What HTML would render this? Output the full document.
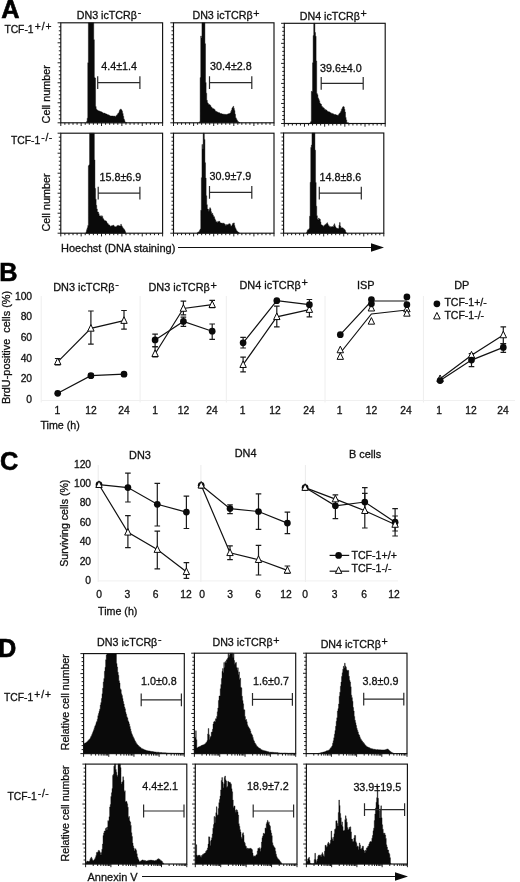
<!DOCTYPE html>
<html lang="en"><head><meta charset="utf-8"><title>Figure</title>
<style>
html,body{margin:0;padding:0;background:#fff;}
body{width:520px;height:882px;overflow:hidden;font-family:'Liberation Sans', Arial, Helvetica, sans-serif;}
svg{display:block;}
svg text{font-family:'Liberation Sans', Arial, Helvetica, sans-serif;}
</style></head>
<body>
<svg width="520" height="882" viewBox="0 0 520 882">
<rect width="520" height="882" fill="#fff"/>
<text x="1.20" y="17.50" font-size="25.3" font-weight="bold" fill="#000" stroke="#000" stroke-width="0.6">A</text>
<text x="109.00" y="19.00" font-size="10.7" text-anchor="middle" font-weight="normal" fill="#111" stroke="#111" stroke-width="0.3" >DN3 icTCRβ<tspan font-size="10.70" dy="-3.3" dx="0.7">-</tspan></text>
<text x="226.00" y="19.00" font-size="10.7" text-anchor="middle" font-weight="normal" fill="#111" stroke="#111" stroke-width="0.3" >DN3 icTCRβ<tspan font-size="10.70" dy="-2.4" dx="0.7">+</tspan></text>
<text x="333.30" y="19.60" font-size="10.7" text-anchor="middle" font-weight="normal" fill="#111" stroke="#111" stroke-width="0.3" >DN4 icTCRβ<tspan font-size="10.70" dy="-2.4" dx="0.7">+</tspan></text>
<text x="4.40" y="32.70" font-size="10.3" text-anchor="start" font-weight="normal" fill="#111" stroke="#111" stroke-width="0.3" >TCF-1<tspan dy="-3.2" dx="1.2" font-size="10.3" letter-spacing="0.9">+/+</tspan></text>
<text x="11.00" y="143.80" font-size="10.3" text-anchor="start" font-weight="normal" fill="#111" stroke="#111" stroke-width="0.3" >TCF-1<tspan dy="-3.2" dx="1.2" font-size="10.3" letter-spacing="0.6">-/-</tspan></text>
<path d="M86.55,122.80L86.55,121.57L87.15,121.57L87.15,118.19L87.75,118.19L87.75,62.76L88.35,62.76L88.35,22.80L88.95,22.80L88.95,22.80L89.55,22.80L89.55,22.80L90.15,22.80L90.15,22.80L90.75,22.80L90.75,22.80L91.35,22.80L91.35,22.80L91.95,22.80L91.95,22.80L92.55,22.80L92.55,22.80L93.15,22.80L93.15,22.80L93.75,22.80L93.75,39.75L94.35,39.75L94.35,77.60L94.95,77.60L94.95,78.00L95.55,78.00L95.55,106.57L96.15,106.57L96.15,109.12L96.75,109.12L96.75,110.08L97.35,110.08L97.35,110.15L97.95,110.15L97.95,110.77L98.55,110.77L98.55,110.99L99.15,110.99L99.15,110.93L99.75,110.93L99.75,111.60L100.35,111.60L100.35,111.61L100.95,111.61L100.95,111.86L101.55,111.86L101.55,112.01L102.15,112.01L102.15,112.49L102.75,112.49L102.75,112.97L103.35,112.97L103.35,113.26L103.95,113.26L103.95,113.11L104.55,113.11L104.55,113.36L105.15,113.36L105.15,113.66L105.75,113.66L105.75,114.00L106.35,114.00L106.35,114.02L106.95,114.02L106.95,114.52L107.55,114.52L107.55,114.96L108.15,114.96L108.15,114.87L108.75,114.87L108.75,115.20L109.35,115.20L109.35,115.56L109.95,115.56L109.95,115.88L110.55,115.88L110.55,115.97L111.15,115.97L111.15,115.96L111.75,115.96L111.75,116.12L112.35,116.12L112.35,115.96L112.95,115.96L112.95,116.26L113.55,116.26L113.55,116.06L114.15,116.06L114.15,116.05L114.75,116.05L114.75,116.44L115.35,116.44L115.35,116.39L115.95,116.39L115.95,115.66L116.55,115.66L116.55,115.26L117.15,115.26L117.15,114.46L117.75,114.46L117.75,113.59L118.35,113.59L118.35,113.03L118.95,113.03L118.95,111.62L119.55,111.62L119.55,110.00L120.15,110.00L120.15,109.17L120.75,109.17L120.75,109.24L121.35,109.24L121.35,110.01L121.95,110.01L121.95,111.13L122.55,111.13L122.55,113.56L123.15,113.56L123.15,116.33L123.75,116.33L123.75,119.12L124.35,119.12L124.35,120.60L124.95,120.60L124.95,122.13L125.55,122.13L125.55,122.44L126.15,122.44L126.15,122.70L126.75,122.70L126.75,122.80L127.02,122.80L127.02,122.80Z" fill="#0a0a0a" stroke="#0a0a0a" stroke-width="0.4"/>
<rect x="60.80" y="22.80" width="101.80" height="100.00" fill="none" stroke="#111" stroke-width="1.15"/>
<path d="M60.80,122.80h-3.2M60.80,118.80h-2.0M60.80,114.80h-2.0M60.80,110.80h-2.0M60.80,106.80h-2.0M60.80,102.80h-3.2M60.80,98.80h-2.0M60.80,94.80h-2.0M60.80,90.80h-2.0M60.80,86.80h-2.0M60.80,82.80h-3.2M60.80,78.80h-2.0M60.80,74.80h-2.0M60.80,70.80h-2.0M60.80,66.80h-2.0M60.80,62.80h-3.2M60.80,58.80h-2.0M60.80,54.80h-2.0M60.80,50.80h-2.0M60.80,46.80h-2.0M60.80,42.80h-3.2M60.80,38.80h-2.0M60.80,34.80h-2.0M60.80,30.80h-2.0M60.80,26.80h-2.0M60.80,22.80h-3.2M60.80,122.80v3.2M64.87,122.80v2.0M68.94,122.80v2.0M73.02,122.80v2.0M77.09,122.80v2.0M81.16,122.80v3.2M85.23,122.80v2.0M89.30,122.80v2.0M93.38,122.80v2.0M97.45,122.80v2.0M101.52,122.80v3.2M105.59,122.80v2.0M109.66,122.80v2.0M113.74,122.80v2.0M117.81,122.80v2.0M121.88,122.80v3.2M125.95,122.80v2.0M130.02,122.80v2.0M134.10,122.80v2.0M138.17,122.80v2.0M142.24,122.80v3.2M146.31,122.80v2.0M150.38,122.80v2.0M154.46,122.80v2.0M158.53,122.80v2.0M162.60,122.80v3.2" stroke="#111" stroke-width="0.95" fill="none"/>
<path d="M97.70,82.60H139.90M97.70,76.20v12.8M139.90,76.20v12.8" stroke="#2a2a2a" stroke-width="1.2" fill="none"/>
<text x="101.20" y="70.40" font-size="10.75" text-anchor="start" font-weight="normal" fill="#111" stroke="#111" stroke-width="0.3" >4.4±1.4</text>
<path d="M198.93,122.80L198.93,122.60L199.53,122.60L199.53,121.68L200.13,121.68L200.13,77.60L200.73,77.60L200.73,35.97L201.33,35.97L201.33,38.03L201.93,38.03L201.93,22.80L202.53,22.80L202.53,22.80L203.13,22.80L203.13,22.80L203.73,22.80L203.73,22.80L204.33,22.80L204.33,22.80L204.93,22.80L204.93,43.71L205.53,43.71L205.53,82.61L206.13,82.61L206.13,93.14L206.73,93.14L206.73,100.37L207.33,100.37L207.33,102.77L207.93,102.77L207.93,103.61L208.53,103.61L208.53,104.55L209.13,104.55L209.13,104.47L209.73,104.47L209.73,105.07L210.33,105.07L210.33,105.73L210.93,105.73L210.93,106.96L211.53,106.96L211.53,107.54L212.13,107.54L212.13,108.37L212.73,108.37L212.73,108.67L213.33,108.67L213.33,108.74L213.93,108.74L213.93,109.18L214.53,109.18L214.53,109.82L215.13,109.82L215.13,110.90L215.73,110.90L215.73,111.41L216.33,111.41L216.33,111.47L216.93,111.47L216.93,111.92L217.53,111.92L217.53,112.27L218.13,112.27L218.13,112.87L218.73,112.87L218.73,112.57L219.33,112.57L219.33,112.96L219.93,112.96L219.93,113.45L220.53,113.45L220.53,113.58L221.13,113.58L221.13,113.55L221.73,113.55L221.73,113.96L222.33,113.96L222.33,114.06L222.93,114.06L222.93,114.45L223.53,114.45L223.53,113.98L224.13,113.98L224.13,114.44L224.73,114.44L224.73,114.13L225.33,114.13L225.33,114.55L225.93,114.55L225.93,114.85L226.53,114.85L226.53,114.37L227.13,114.37L227.13,114.27L227.73,114.27L227.73,114.04L228.33,114.04L228.33,113.67L228.93,113.67L228.93,113.66L229.53,113.66L229.53,113.31L230.13,113.31L230.13,113.04L230.73,113.04L230.73,111.55L231.33,111.55L231.33,109.91L231.93,109.91L231.93,108.02L232.53,108.02L232.53,107.23L233.13,107.23L233.13,106.34L233.73,106.34L233.73,108.41L234.33,108.41L234.33,110.54L234.93,110.54L234.93,114.19L235.53,114.19L235.53,117.70L236.13,117.70L236.13,118.74L236.73,118.74L236.73,120.03L237.33,120.03L237.33,121.13L237.93,121.13L237.93,121.66L238.53,121.66L238.53,122.16L239.13,122.16L239.13,122.54L239.73,122.54L239.73,122.80L240.00,122.80L240.00,122.80Z" fill="#0a0a0a" stroke="#0a0a0a" stroke-width="0.4"/>
<rect x="173.50" y="22.80" width="100.50" height="100.00" fill="none" stroke="#111" stroke-width="1.15"/>
<path d="M173.50,122.80h-3.2M173.50,118.80h-2.0M173.50,114.80h-2.0M173.50,110.80h-2.0M173.50,106.80h-2.0M173.50,102.80h-3.2M173.50,98.80h-2.0M173.50,94.80h-2.0M173.50,90.80h-2.0M173.50,86.80h-2.0M173.50,82.80h-3.2M173.50,78.80h-2.0M173.50,74.80h-2.0M173.50,70.80h-2.0M173.50,66.80h-2.0M173.50,62.80h-3.2M173.50,58.80h-2.0M173.50,54.80h-2.0M173.50,50.80h-2.0M173.50,46.80h-2.0M173.50,42.80h-3.2M173.50,38.80h-2.0M173.50,34.80h-2.0M173.50,30.80h-2.0M173.50,26.80h-2.0M173.50,22.80h-3.2M173.50,122.80v3.2M177.52,122.80v2.0M181.54,122.80v2.0M185.56,122.80v2.0M189.58,122.80v2.0M193.60,122.80v3.2M197.62,122.80v2.0M201.64,122.80v2.0M205.66,122.80v2.0M209.68,122.80v2.0M213.70,122.80v3.2M217.72,122.80v2.0M221.74,122.80v2.0M225.76,122.80v2.0M229.78,122.80v2.0M233.80,122.80v3.2M237.82,122.80v2.0M241.84,122.80v2.0M245.86,122.80v2.0M249.88,122.80v2.0M253.90,122.80v3.2M257.92,122.80v2.0M261.94,122.80v2.0M265.96,122.80v2.0M269.98,122.80v2.0M274.00,122.80v3.2" stroke="#111" stroke-width="0.95" fill="none"/>
<path d="M209.50,82.60H251.80M209.50,76.20v12.8M251.80,76.20v12.8" stroke="#2a2a2a" stroke-width="1.2" fill="none"/>
<text x="210.00" y="69.70" font-size="10.75" text-anchor="start" font-weight="normal" fill="#111" stroke="#111" stroke-width="0.3" >30.4±2.8</text>
<path d="M310.12,123.50L310.12,122.51L310.72,122.51L310.72,121.61L311.32,121.61L311.32,91.36L311.92,91.36L311.92,91.51L312.52,91.51L312.52,62.84L313.12,62.84L313.12,35.55L313.72,35.55L313.72,23.30L314.32,23.30L314.32,23.30L314.92,23.30L314.92,32.54L315.52,32.54L315.52,36.32L316.12,36.32L316.12,60.99L316.72,60.99L316.72,93.59L317.32,93.59L317.32,94.67L317.92,94.67L317.92,97.89L318.52,97.89L318.52,99.24L319.12,99.24L319.12,100.79L319.72,100.79L319.72,103.05L320.32,103.05L320.32,103.97L320.92,103.97L320.92,104.28L321.52,104.28L321.52,106.32L322.12,106.32L322.12,106.72L322.72,106.72L322.72,107.64L323.32,107.64L323.32,107.80L323.92,107.80L323.92,108.47L324.52,108.47L324.52,109.56L325.12,109.56L325.12,109.46L325.72,109.46L325.72,110.21L326.32,110.21L326.32,110.04L326.92,110.04L326.92,111.12L327.52,111.12L327.52,111.45L328.12,111.45L328.12,111.81L328.72,111.81L328.72,111.86L329.32,111.86L329.32,112.03L329.92,112.03L329.92,112.63L330.52,112.63L330.52,112.70L331.12,112.70L331.12,113.44L331.72,113.44L331.72,113.29L332.32,113.29L332.32,113.85L332.92,113.85L332.92,113.85L333.52,113.85L333.52,114.33L334.12,114.33L334.12,114.48L334.72,114.48L334.72,114.53L335.32,114.53L335.32,114.50L335.92,114.50L335.92,114.97L336.52,114.97L336.52,114.96L337.12,114.96L337.12,115.34L337.72,115.34L337.72,115.51L338.32,115.51L338.32,114.73L338.92,114.73L338.92,113.73L339.52,113.73L339.52,113.15L340.12,113.15L340.12,112.54L340.72,112.54L340.72,111.29L341.32,111.29L341.32,109.39L341.92,109.39L341.92,108.49L342.52,108.49L342.52,107.12L343.12,107.12L343.12,106.45L343.72,106.45L343.72,106.98L344.32,106.98L344.32,109.23L344.92,109.23L344.92,112.12L345.52,112.12L345.52,117.48L346.12,117.48L346.12,119.89L346.72,119.89L346.72,122.40L347.32,122.40L347.32,122.68L347.92,122.68L347.92,122.75L348.52,122.75L348.52,123.06L348.81,123.06L348.81,123.50Z" fill="#0a0a0a" stroke="#0a0a0a" stroke-width="0.4"/>
<rect x="284.30" y="23.30" width="100.90" height="100.20" fill="none" stroke="#111" stroke-width="1.15"/>
<path d="M284.30,123.50h-3.2M284.30,119.49h-2.0M284.30,115.48h-2.0M284.30,111.48h-2.0M284.30,107.47h-2.0M284.30,103.46h-3.2M284.30,99.45h-2.0M284.30,95.44h-2.0M284.30,91.44h-2.0M284.30,87.43h-2.0M284.30,83.42h-3.2M284.30,79.41h-2.0M284.30,75.40h-2.0M284.30,71.40h-2.0M284.30,67.39h-2.0M284.30,63.38h-3.2M284.30,59.37h-2.0M284.30,55.36h-2.0M284.30,51.36h-2.0M284.30,47.35h-2.0M284.30,43.34h-3.2M284.30,39.33h-2.0M284.30,35.32h-2.0M284.30,31.32h-2.0M284.30,27.31h-2.0M284.30,23.30h-3.2M284.30,123.50v3.2M288.34,123.50v2.0M292.37,123.50v2.0M296.41,123.50v2.0M300.44,123.50v2.0M304.48,123.50v3.2M308.52,123.50v2.0M312.55,123.50v2.0M316.59,123.50v2.0M320.62,123.50v2.0M324.66,123.50v3.2M328.70,123.50v2.0M332.73,123.50v2.0M336.77,123.50v2.0M340.80,123.50v2.0M344.84,123.50v3.2M348.88,123.50v2.0M352.91,123.50v2.0M356.95,123.50v2.0M360.98,123.50v2.0M365.02,123.50v3.2M369.06,123.50v2.0M373.09,123.50v2.0M377.13,123.50v2.0M381.16,123.50v2.0M385.20,123.50v3.2" stroke="#111" stroke-width="0.95" fill="none"/>
<path d="M321.20,83.30H363.20M321.20,76.90v12.8M363.20,76.90v12.8" stroke="#2a2a2a" stroke-width="1.2" fill="none"/>
<text x="320.00" y="71.50" font-size="10.75" text-anchor="start" font-weight="normal" fill="#111" stroke="#111" stroke-width="0.3" >39.6±4.0</text>
<path d="M85.95,233.20L85.95,231.86L86.55,231.86L86.55,229.64L87.15,229.64L87.15,227.86L87.75,227.86L87.75,225.57L88.35,225.57L88.35,165.75L88.95,165.75L88.95,164.82L89.55,164.82L89.55,133.20L90.15,133.20L90.15,133.20L90.75,133.20L90.75,133.20L91.35,133.20L91.35,133.20L91.95,133.20L91.95,133.20L92.55,133.20L92.55,133.20L93.15,133.20L93.15,133.20L93.75,133.20L93.75,133.20L94.35,133.20L94.35,159.89L94.95,159.89L94.95,188.42L95.55,188.42L95.55,199.13L96.15,199.13L96.15,205.36L96.75,205.36L96.75,209.05L97.35,209.05L97.35,212.03L97.95,212.03L97.95,212.08L98.55,212.08L98.55,213.65L99.15,213.65L99.15,216.03L99.75,216.03L99.75,215.83L100.35,215.83L100.35,216.13L100.95,216.13L100.95,216.83L101.55,216.83L101.55,215.70L102.15,215.70L102.15,216.39L102.75,216.39L102.75,218.54L103.35,218.54L103.35,219.18L103.95,219.18L103.95,220.34L104.55,220.34L104.55,220.64L105.15,220.64L105.15,220.79L105.75,220.79L105.75,221.05L106.35,221.05L106.35,221.86L106.95,221.86L106.95,223.15L107.55,223.15L107.55,223.49L108.15,223.49L108.15,224.41L108.75,224.41L108.75,224.93L109.35,224.93L109.35,225.29L109.95,225.29L109.95,226.26L110.55,226.26L110.55,226.30L111.15,226.30L111.15,225.84L111.75,225.84L111.75,225.93L112.35,225.93L112.35,225.53L112.95,225.53L112.95,225.02L113.55,225.02L113.55,225.67L114.15,225.67L114.15,226.42L114.75,226.42L114.75,226.44L115.35,226.44L115.35,227.11L115.95,227.11L115.95,226.99L116.55,226.99L116.55,225.98L117.15,225.98L117.15,225.66L117.75,225.66L117.75,225.27L118.35,225.27L118.35,225.77L118.95,225.77L118.95,225.83L119.55,225.83L119.55,225.93L120.15,225.93L120.15,225.95L120.75,225.95L120.75,224.23L121.35,224.23L121.35,225.73L121.95,225.73L121.95,226.64L122.55,226.64L122.55,227.74L123.15,227.74L123.15,228.58L123.75,228.58L123.75,229.16L124.35,229.16L124.35,229.92L124.95,229.92L124.95,231.39L125.55,231.39L125.55,232.84L125.83,232.84L125.83,233.20Z" fill="#0a0a0a" stroke="#0a0a0a" stroke-width="0.4"/>
<rect x="60.80" y="133.20" width="101.80" height="100.00" fill="none" stroke="#111" stroke-width="1.15"/>
<path d="M60.80,233.20h-3.2M60.80,229.20h-2.0M60.80,225.20h-2.0M60.80,221.20h-2.0M60.80,217.20h-2.0M60.80,213.20h-3.2M60.80,209.20h-2.0M60.80,205.20h-2.0M60.80,201.20h-2.0M60.80,197.20h-2.0M60.80,193.20h-3.2M60.80,189.20h-2.0M60.80,185.20h-2.0M60.80,181.20h-2.0M60.80,177.20h-2.0M60.80,173.20h-3.2M60.80,169.20h-2.0M60.80,165.20h-2.0M60.80,161.20h-2.0M60.80,157.20h-2.0M60.80,153.20h-3.2M60.80,149.20h-2.0M60.80,145.20h-2.0M60.80,141.20h-2.0M60.80,137.20h-2.0M60.80,133.20h-3.2M60.80,233.20v3.2M64.87,233.20v2.0M68.94,233.20v2.0M73.02,233.20v2.0M77.09,233.20v2.0M81.16,233.20v3.2M85.23,233.20v2.0M89.30,233.20v2.0M93.38,233.20v2.0M97.45,233.20v2.0M101.52,233.20v3.2M105.59,233.20v2.0M109.66,233.20v2.0M113.74,233.20v2.0M117.81,233.20v2.0M121.88,233.20v3.2M125.95,233.20v2.0M130.02,233.20v2.0M134.10,233.20v2.0M138.17,233.20v2.0M142.24,233.20v3.2M146.31,233.20v2.0M150.38,233.20v2.0M154.46,233.20v2.0M158.53,233.20v2.0M162.60,233.20v3.2" stroke="#111" stroke-width="0.95" fill="none"/>
<path d="M98.20,193.10H139.90M98.20,186.70v12.8M139.90,186.70v12.8" stroke="#2a2a2a" stroke-width="1.2" fill="none"/>
<text x="99.50" y="181.10" font-size="10.75" text-anchor="start" font-weight="normal" fill="#111" stroke="#111" stroke-width="0.3" >15.8±6.9</text>
<path d="M197.14,233.20L197.14,232.92L197.74,232.92L197.74,232.35L198.34,232.35L198.34,231.93L198.94,231.93L198.94,231.52L199.54,231.52L199.54,230.32L200.14,230.32L200.14,229.02L200.74,229.02L200.74,210.33L201.34,210.33L201.34,177.65L201.94,177.65L201.94,144.51L202.54,144.51L202.54,148.99L203.14,148.99L203.14,133.20L203.74,133.20L203.74,133.20L204.34,133.20L204.34,139.47L204.94,139.47L204.94,162.70L205.54,162.70L205.54,178.09L206.14,178.09L206.14,195.76L206.74,195.76L206.74,204.73L207.34,204.73L207.34,209.04L207.94,209.04L207.94,209.29L208.54,209.29L208.54,211.24L209.14,211.24L209.14,209.55L209.74,209.55L209.74,207.77L210.34,207.77L210.34,208.87L210.94,208.87L210.94,211.64L211.54,211.64L211.54,213.69L212.14,213.69L212.14,213.30L212.74,213.30L212.74,214.97L213.34,214.97L213.34,216.38L213.94,216.38L213.94,216.86L214.54,216.86L214.54,218.77L215.14,218.77L215.14,219.91L215.74,219.91L215.74,221.38L216.34,221.38L216.34,221.94L216.94,221.94L216.94,222.75L217.54,222.75L217.54,221.62L218.14,221.62L218.14,221.63L218.74,221.63L218.74,221.17L219.34,221.17L219.34,221.61L219.94,221.61L219.94,222.64L220.54,222.64L220.54,223.06L221.14,223.06L221.14,223.11L221.74,223.11L221.74,223.26L222.34,223.26L222.34,223.21L222.94,223.21L222.94,223.41L223.54,223.41L223.54,223.04L224.14,223.04L224.14,223.92L224.74,223.92L224.74,224.36L225.34,224.36L225.34,225.44L225.94,225.44L225.94,225.21L226.54,225.21L226.54,224.46L227.14,224.46L227.14,224.67L227.74,224.67L227.74,224.98L228.34,224.98L228.34,223.88L228.94,223.88L228.94,223.86L229.54,223.86L229.54,223.82L230.14,223.82L230.14,224.73L230.74,224.73L230.74,226.14L231.34,226.14L231.34,226.09L231.94,226.09L231.94,224.78L232.54,224.78L232.54,223.58L233.14,223.58L233.14,223.22L233.74,223.22L233.74,222.89L234.34,222.89L234.34,225.50L234.94,225.50L234.94,227.63L235.54,227.63L235.54,228.84L236.14,228.84L236.14,230.24L236.74,230.24L236.74,231.11L237.34,231.11L237.34,231.87L237.94,231.87L237.94,232.07L238.54,232.07L238.54,232.66L239.14,232.66L239.14,233.15L239.40,233.15L239.40,233.20Z" fill="#0a0a0a" stroke="#0a0a0a" stroke-width="0.4"/>
<rect x="173.50" y="133.20" width="100.50" height="100.00" fill="none" stroke="#111" stroke-width="1.15"/>
<path d="M173.50,233.20h-3.2M173.50,229.20h-2.0M173.50,225.20h-2.0M173.50,221.20h-2.0M173.50,217.20h-2.0M173.50,213.20h-3.2M173.50,209.20h-2.0M173.50,205.20h-2.0M173.50,201.20h-2.0M173.50,197.20h-2.0M173.50,193.20h-3.2M173.50,189.20h-2.0M173.50,185.20h-2.0M173.50,181.20h-2.0M173.50,177.20h-2.0M173.50,173.20h-3.2M173.50,169.20h-2.0M173.50,165.20h-2.0M173.50,161.20h-2.0M173.50,157.20h-2.0M173.50,153.20h-3.2M173.50,149.20h-2.0M173.50,145.20h-2.0M173.50,141.20h-2.0M173.50,137.20h-2.0M173.50,133.20h-3.2M173.50,233.20v3.2M177.52,233.20v2.0M181.54,233.20v2.0M185.56,233.20v2.0M189.58,233.20v2.0M193.60,233.20v3.2M197.62,233.20v2.0M201.64,233.20v2.0M205.66,233.20v2.0M209.68,233.20v2.0M213.70,233.20v3.2M217.72,233.20v2.0M221.74,233.20v2.0M225.76,233.20v2.0M229.78,233.20v2.0M233.80,233.20v3.2M237.82,233.20v2.0M241.84,233.20v2.0M245.86,233.20v2.0M249.88,233.20v2.0M253.90,233.20v3.2M257.92,233.20v2.0M261.94,233.20v2.0M265.96,233.20v2.0M269.98,233.20v2.0M274.00,233.20v3.2" stroke="#111" stroke-width="0.95" fill="none"/>
<path d="M209.50,192.40H251.80M209.50,186.00v12.8M251.80,186.00v12.8" stroke="#2a2a2a" stroke-width="1.2" fill="none"/>
<text x="209.50" y="180.40" font-size="10.75" text-anchor="start" font-weight="normal" fill="#111" stroke="#111" stroke-width="0.3" >30.9±7.9</text>
<path d="M306.55,233.20L306.55,232.26L307.15,232.26L307.15,230.56L307.75,230.56L307.75,229.64L308.35,229.64L308.35,229.49L308.95,229.49L308.95,228.56L309.55,228.56L309.55,216.22L310.15,216.22L310.15,182.33L310.75,182.33L310.75,147.45L311.35,147.45L311.35,145.07L311.95,145.07L311.95,133.00L312.55,133.00L312.55,133.00L313.15,133.00L313.15,133.00L313.75,133.00L313.75,133.00L314.35,133.00L314.35,133.00L314.95,133.00L314.95,150.15L315.55,150.15L315.55,182.61L316.15,182.61L316.15,206.19L316.75,206.19L316.75,215.82L317.35,215.82L317.35,219.34L317.95,219.34L317.95,220.10L318.55,220.10L318.55,218.09L319.15,218.09L319.15,219.05L319.75,219.05L319.75,219.33L320.35,219.33L320.35,221.92L320.95,221.92L320.95,224.76L321.55,224.76L321.55,225.00L322.15,225.00L322.15,225.40L322.75,225.40L322.75,225.80L323.35,225.80L323.35,226.41L323.95,226.41L323.95,225.83L324.55,225.83L324.55,224.95L325.15,224.95L325.15,224.42L325.75,224.42L325.75,224.19L326.35,224.19L326.35,223.51L326.95,223.51L326.95,222.75L327.55,222.75L327.55,224.02L328.15,224.02L328.15,225.57L328.75,225.57L328.75,225.87L329.35,225.87L329.35,226.69L329.95,226.69L329.95,226.60L330.55,226.60L330.55,227.21L331.15,227.21L331.15,226.82L331.75,226.82L331.75,226.70L332.35,226.70L332.35,226.59L332.95,226.59L332.95,226.92L333.55,226.92L333.55,225.16L334.15,225.16L334.15,223.83L334.75,223.83L334.75,225.82L335.35,225.82L335.35,227.11L335.95,227.11L335.95,227.88L336.55,227.88L336.55,228.25L337.15,228.25L337.15,228.46L337.75,228.46L337.75,228.31L338.35,228.31L338.35,228.77L338.95,228.77L338.95,225.21L339.55,225.21L339.55,222.56L340.15,222.56L340.15,226.06L340.75,226.06L340.75,227.72L341.35,227.72L341.35,227.74L341.95,227.74L341.95,227.79L342.55,227.79L342.55,227.95L343.15,227.95L343.15,228.62L343.75,228.62L343.75,229.13L344.35,229.13L344.35,229.46L344.95,229.46L344.95,230.60L345.55,230.60L345.55,232.01L346.15,232.01L346.15,232.97L346.43,232.97L346.43,233.20Z" fill="#0a0a0a" stroke="#0a0a0a" stroke-width="0.4"/>
<rect x="283.60" y="133.00" width="100.20" height="100.20" fill="none" stroke="#111" stroke-width="1.15"/>
<path d="M283.60,233.20h-3.2M283.60,229.19h-2.0M283.60,225.18h-2.0M283.60,221.18h-2.0M283.60,217.17h-2.0M283.60,213.16h-3.2M283.60,209.15h-2.0M283.60,205.14h-2.0M283.60,201.14h-2.0M283.60,197.13h-2.0M283.60,193.12h-3.2M283.60,189.11h-2.0M283.60,185.10h-2.0M283.60,181.10h-2.0M283.60,177.09h-2.0M283.60,173.08h-3.2M283.60,169.07h-2.0M283.60,165.06h-2.0M283.60,161.06h-2.0M283.60,157.05h-2.0M283.60,153.04h-3.2M283.60,149.03h-2.0M283.60,145.02h-2.0M283.60,141.02h-2.0M283.60,137.01h-2.0M283.60,133.00h-3.2M283.60,233.20v3.2M287.61,233.20v2.0M291.62,233.20v2.0M295.62,233.20v2.0M299.63,233.20v2.0M303.64,233.20v3.2M307.65,233.20v2.0M311.66,233.20v2.0M315.66,233.20v2.0M319.67,233.20v2.0M323.68,233.20v3.2M327.69,233.20v2.0M331.70,233.20v2.0M335.70,233.20v2.0M339.71,233.20v2.0M343.72,233.20v3.2M347.73,233.20v2.0M351.74,233.20v2.0M355.74,233.20v2.0M359.75,233.20v2.0M363.76,233.20v3.2M367.77,233.20v2.0M371.78,233.20v2.0M375.78,233.20v2.0M379.79,233.20v2.0M383.80,233.20v3.2" stroke="#111" stroke-width="0.95" fill="none"/>
<path d="M319.30,193.10H361.30M319.30,186.70v12.8M361.30,186.70v12.8" stroke="#2a2a2a" stroke-width="1.2" fill="none"/>
<text x="319.50" y="181.10" font-size="10.75" text-anchor="start" font-weight="normal" fill="#111" stroke="#111" stroke-width="0.3" >14.8±8.6</text>
<text transform="translate(49.60,94.30) rotate(-90)" font-size="10.8" text-anchor="middle" fill="#111" stroke="#111" stroke-width="0.3" >Cell number</text>
<text transform="translate(49.60,202.50) rotate(-90)" font-size="10.8" text-anchor="middle" fill="#111" stroke="#111" stroke-width="0.3" >Cell number</text>
<text x="61.00" y="251.50" font-size="11" text-anchor="start" font-weight="normal" fill="#111" stroke="#111" stroke-width="0.3" >Hoechst (DNA staining)</text>
<path d="M178,247.5H374" stroke="#111" stroke-width="1" fill="none"/>
<path d="M384,247.5L371,243.2L371,251.8Z" fill="#0a0a0a"/>
<text x="-0.80" y="281.20" font-size="25.3" font-weight="bold" fill="#000" stroke="#000" stroke-width="0.6">B</text>
<text transform="translate(9.80,347.50) rotate(-90)" font-size="10.9" text-anchor="middle" fill="#111" stroke="#111" stroke-width="0.3" >BrdU-positive&#160; cells (%)</text>
<text x="32.10" y="402.65" font-size="10.3" text-anchor="end" font-weight="normal" fill="#111" stroke="#111" stroke-width="0.3" >0</text>
<text x="32.10" y="382.11" font-size="10.3" text-anchor="end" font-weight="normal" fill="#111" stroke="#111" stroke-width="0.3" >20</text>
<text x="32.10" y="361.57" font-size="10.3" text-anchor="end" font-weight="normal" fill="#111" stroke="#111" stroke-width="0.3" >40</text>
<text x="32.10" y="341.03" font-size="10.3" text-anchor="end" font-weight="normal" fill="#111" stroke="#111" stroke-width="0.3" >60</text>
<text x="32.10" y="320.49" font-size="10.3" text-anchor="end" font-weight="normal" fill="#111" stroke="#111" stroke-width="0.3" >80</text>
<text x="32.10" y="299.95" font-size="10.3" text-anchor="end" font-weight="normal" fill="#111" stroke="#111" stroke-width="0.3" >100</text>
<path d="M41.20,296.00L41.20,402.50" stroke="#eeeeee" stroke-width="1" fill="none"/>
<path d="M140.10,296.00L140.10,402.50" stroke="#eeeeee" stroke-width="1" fill="none"/>
<path d="M226.30,296.00L226.30,402.50" stroke="#eeeeee" stroke-width="1" fill="none"/>
<path d="M325.00,296.00L325.00,402.50" stroke="#eeeeee" stroke-width="1" fill="none"/>
<path d="M423.40,296.00L423.40,402.50" stroke="#eeeeee" stroke-width="1" fill="none"/>
<path d="M41.20,400.50L515.00,400.50" stroke="#f0f0f0" stroke-width="1" fill="none"/>
<text x="86.00" y="290.90" font-size="10.9" text-anchor="middle" font-weight="normal" fill="#111" stroke="#111" stroke-width="0.3" >DN3 icTCRβ<tspan font-size="10.90" dy="-3.3" dx="0.7">-</tspan></text>
<text x="182.70" y="290.90" font-size="10.9" text-anchor="middle" font-weight="normal" fill="#111" stroke="#111" stroke-width="0.3" >DN3 icTCRβ<tspan font-size="10.90" dy="-2.4" dx="0.7">+</tspan></text>
<text x="273.70" y="288.80" font-size="10.9" text-anchor="middle" font-weight="normal" fill="#111" stroke="#111" stroke-width="0.3" >DN4 icTCRβ<tspan font-size="10.90" dy="-2.4" dx="0.7">+</tspan></text>
<text x="365.70" y="288.80" font-size="10.9" text-anchor="middle" font-weight="normal" fill="#111" stroke="#111" stroke-width="0.3" >ISP</text>
<text x="461.70" y="288.80" font-size="10.9" text-anchor="middle" font-weight="normal" fill="#111" stroke="#111" stroke-width="0.3" >DP</text>
<text x="57.30" y="414.20" font-size="10.3" text-anchor="middle" font-weight="normal" fill="#111" stroke="#111" stroke-width="0.3" >1</text>
<text x="91.00" y="414.20" font-size="10.3" text-anchor="middle" font-weight="normal" fill="#111" stroke="#111" stroke-width="0.3" >12</text>
<text x="124.00" y="414.20" font-size="10.3" text-anchor="middle" font-weight="normal" fill="#111" stroke="#111" stroke-width="0.3" >24</text>
<text x="155.00" y="414.20" font-size="10.3" text-anchor="middle" font-weight="normal" fill="#111" stroke="#111" stroke-width="0.3" >1</text>
<text x="183.50" y="414.20" font-size="10.3" text-anchor="middle" font-weight="normal" fill="#111" stroke="#111" stroke-width="0.3" >12</text>
<text x="212.00" y="414.20" font-size="10.3" text-anchor="middle" font-weight="normal" fill="#111" stroke="#111" stroke-width="0.3" >24</text>
<text x="242.50" y="414.20" font-size="10.3" text-anchor="middle" font-weight="normal" fill="#111" stroke="#111" stroke-width="0.3" >1</text>
<text x="275.10" y="414.20" font-size="10.3" text-anchor="middle" font-weight="normal" fill="#111" stroke="#111" stroke-width="0.3" >12</text>
<text x="309.00" y="414.20" font-size="10.3" text-anchor="middle" font-weight="normal" fill="#111" stroke="#111" stroke-width="0.3" >24</text>
<text x="339.50" y="414.20" font-size="10.3" text-anchor="middle" font-weight="normal" fill="#111" stroke="#111" stroke-width="0.3" >1</text>
<text x="371.50" y="414.20" font-size="10.3" text-anchor="middle" font-weight="normal" fill="#111" stroke="#111" stroke-width="0.3" >12</text>
<text x="406.00" y="414.20" font-size="10.3" text-anchor="middle" font-weight="normal" fill="#111" stroke="#111" stroke-width="0.3" >24</text>
<text x="439.00" y="414.20" font-size="10.3" text-anchor="middle" font-weight="normal" fill="#111" stroke="#111" stroke-width="0.3" >1</text>
<text x="471.00" y="414.20" font-size="10.3" text-anchor="middle" font-weight="normal" fill="#111" stroke="#111" stroke-width="0.3" >12</text>
<text x="503.00" y="414.20" font-size="10.3" text-anchor="middle" font-weight="normal" fill="#111" stroke="#111" stroke-width="0.3" >24</text>
<text x="40.40" y="429.20" font-size="10.7" text-anchor="start" font-weight="normal" fill="#111" stroke="#111" stroke-width="0.3" >Time (h)</text>
<path d="M57.70,361.80L90.90,328.40L124.00,320.60" stroke="#111" stroke-width="1.2" fill="none"/>
<path d="M57.70,393.30L90.90,375.70L124.00,374.20" stroke="#111" stroke-width="1.2" fill="none"/>
<path d="M57.70,358.50V365.00M54.90,358.50h5.6M54.90,365.00h5.6" stroke="#1a1a1a" stroke-width="1.2" fill="none"/>
<path d="M90.90,311.00V344.20M88.10,311.00h5.6M88.10,344.20h5.6" stroke="#1a1a1a" stroke-width="1.2" fill="none"/>
<path d="M124.00,310.50V329.20M121.20,310.50h5.6M121.20,329.20h5.6" stroke="#1a1a1a" stroke-width="1.2" fill="none"/>
<path d="M90.90,374.00V377.50M88.10,374.00h5.6M88.10,377.50h5.6" stroke="#1a1a1a" stroke-width="1.2" fill="none"/>
<path d="M124.00,372.50V376.00M121.20,372.50h5.6M121.20,376.00h5.6" stroke="#1a1a1a" stroke-width="1.2" fill="none"/>
<path d="M57.70,357.97L60.90,364.57L54.50,364.57Z" fill="#fff" stroke="#0a0a0a" stroke-width="1"/>
<path d="M90.90,324.57L94.10,331.17L87.70,331.17Z" fill="#fff" stroke="#0a0a0a" stroke-width="1"/>
<path d="M124.00,316.77L127.20,323.37L120.80,323.37Z" fill="#fff" stroke="#0a0a0a" stroke-width="1"/>
<circle cx="57.70" cy="393.30" r="3.35" fill="#0a0a0a"/>
<circle cx="90.90" cy="375.70" r="3.35" fill="#0a0a0a"/>
<circle cx="124.00" cy="374.20" r="3.35" fill="#0a0a0a"/>
<path d="M155.10,339.90L183.40,321.40L212.20,331.20" stroke="#111" stroke-width="1.2" fill="none"/>
<path d="M155.10,353.70L183.40,308.50L212.20,304.70" stroke="#111" stroke-width="1.2" fill="none"/>
<path d="M155.10,334.10V346.50M152.30,334.10h5.6M152.30,346.50h5.6" stroke="#1a1a1a" stroke-width="1.2" fill="none"/>
<path d="M183.40,317.10V326.30M180.60,317.10h5.6M180.60,326.30h5.6" stroke="#1a1a1a" stroke-width="1.2" fill="none"/>
<path d="M212.20,324.00V339.30M209.40,324.00h5.6M209.40,339.30h5.6" stroke="#1a1a1a" stroke-width="1.2" fill="none"/>
<path d="M155.10,347.00V357.00M152.30,347.00h5.6M152.30,357.00h5.6" stroke="#1a1a1a" stroke-width="1.2" fill="none"/>
<path d="M183.40,301.20V314.80M180.60,301.20h5.6M180.60,314.80h5.6" stroke="#1a1a1a" stroke-width="1.2" fill="none"/>
<path d="M212.20,300.40V307.60M209.40,300.40h5.6M209.40,307.60h5.6" stroke="#1a1a1a" stroke-width="1.2" fill="none"/>
<path d="M155.10,349.87L158.30,356.47L151.90,356.47Z" fill="#fff" stroke="#0a0a0a" stroke-width="1"/>
<path d="M183.40,304.67L186.60,311.27L180.20,311.27Z" fill="#fff" stroke="#0a0a0a" stroke-width="1"/>
<path d="M212.20,300.87L215.40,307.47L209.00,307.47Z" fill="#fff" stroke="#0a0a0a" stroke-width="1"/>
<circle cx="155.10" cy="339.90" r="3.35" fill="#0a0a0a"/>
<circle cx="183.40" cy="321.40" r="3.35" fill="#0a0a0a"/>
<circle cx="212.20" cy="331.20" r="3.35" fill="#0a0a0a"/>
<path d="M243.10,342.80L276.80,300.70L309.40,304.70" stroke="#111" stroke-width="1.2" fill="none"/>
<path d="M243.10,364.70L276.80,316.80L309.40,309.60" stroke="#111" stroke-width="1.2" fill="none"/>
<path d="M243.10,337.30V348.00M240.30,337.30h5.6M240.30,348.00h5.6" stroke="#1a1a1a" stroke-width="1.2" fill="none"/>
<path d="M243.10,357.20V371.90M240.30,357.20h5.6M240.30,371.90h5.6" stroke="#1a1a1a" stroke-width="1.2" fill="none"/>
<path d="M276.80,306.10V326.90M274.00,306.10h5.6M274.00,326.90h5.6" stroke="#1a1a1a" stroke-width="1.2" fill="none"/>
<path d="M309.40,299.50V316.80M306.60,299.50h5.6M306.60,316.80h5.6" stroke="#1a1a1a" stroke-width="1.2" fill="none"/>
<path d="M243.10,360.87L246.30,367.47L239.90,367.47Z" fill="#fff" stroke="#0a0a0a" stroke-width="1"/>
<path d="M276.80,312.97L280.00,319.57L273.60,319.57Z" fill="#fff" stroke="#0a0a0a" stroke-width="1"/>
<path d="M309.40,305.77L312.60,312.37L306.20,312.37Z" fill="#fff" stroke="#0a0a0a" stroke-width="1"/>
<circle cx="243.10" cy="342.80" r="3.35" fill="#0a0a0a"/>
<circle cx="276.80" cy="300.70" r="3.35" fill="#0a0a0a"/>
<circle cx="309.40" cy="304.70" r="3.35" fill="#0a0a0a"/>
<path d="M340.30,334.70L371.40,301.00L406.90,301.00" stroke="#111" stroke-width="1.2" fill="none"/>
<path d="M340.30,353.00L371.40,314.00L406.90,310.00" stroke="#111" stroke-width="1.2" fill="none"/>
<path d="M340.30,346.17L343.50,352.77L337.10,352.77Z" fill="#fff" stroke="#0a0a0a" stroke-width="1"/>
<path d="M340.30,352.77L343.50,359.37L337.10,359.37Z" fill="#fff" stroke="#0a0a0a" stroke-width="1"/>
<path d="M371.40,304.37L374.60,310.97L368.20,310.97Z" fill="#fff" stroke="#0a0a0a" stroke-width="1"/>
<path d="M371.40,317.57L374.60,324.17L368.20,324.17Z" fill="#fff" stroke="#0a0a0a" stroke-width="1"/>
<path d="M406.90,305.17L410.10,311.77L403.70,311.77Z" fill="#fff" stroke="#0a0a0a" stroke-width="1"/>
<path d="M406.90,309.57L410.10,316.17L403.70,316.17Z" fill="#fff" stroke="#0a0a0a" stroke-width="1"/>
<circle cx="340.30" cy="334.70" r="3.35" fill="#0a0a0a"/>
<circle cx="371.40" cy="299.50" r="3.35" fill="#0a0a0a"/>
<circle cx="371.40" cy="303.80" r="3.35" fill="#0a0a0a"/>
<circle cx="406.90" cy="296.90" r="3.35" fill="#0a0a0a"/>
<circle cx="406.90" cy="304.70" r="3.35" fill="#0a0a0a"/>
<path d="M440.10,380.60L471.50,360.10L503.30,347.40" stroke="#111" stroke-width="1.2" fill="none"/>
<path d="M440.10,378.80L471.50,355.20L503.30,335.00" stroke="#111" stroke-width="1.2" fill="none"/>
<path d="M503.30,326.90V343.60M500.50,326.90h5.6M500.50,343.60h5.6" stroke="#1a1a1a" stroke-width="1.2" fill="none"/>
<path d="M503.30,343.60V352.30M500.50,343.60h5.6M500.50,352.30h5.6" stroke="#1a1a1a" stroke-width="1.2" fill="none"/>
<path d="M471.50,353.70V366.70M468.70,353.70h5.6M468.70,366.70h5.6" stroke="#1a1a1a" stroke-width="1.2" fill="none"/>
<path d="M440.10,374.97L443.30,381.57L436.90,381.57Z" fill="#fff" stroke="#0a0a0a" stroke-width="1"/>
<path d="M471.50,351.37L474.70,357.97L468.30,357.97Z" fill="#fff" stroke="#0a0a0a" stroke-width="1"/>
<path d="M503.30,331.17L506.50,337.77L500.10,337.77Z" fill="#fff" stroke="#0a0a0a" stroke-width="1"/>
<circle cx="440.10" cy="380.60" r="3.35" fill="#0a0a0a"/>
<circle cx="471.50" cy="360.10" r="3.35" fill="#0a0a0a"/>
<circle cx="503.30" cy="347.40" r="3.35" fill="#0a0a0a"/>
<circle cx="436.90" cy="303.80" r="3.35" fill="#0a0a0a"/>
<text x="444.40" y="306.40" font-size="10.5" text-anchor="start" font-weight="normal" fill="#111" stroke="#111" stroke-width="0.3" >TCF-1+/-</text>
<path d="M436.90,312.43L440.15,318.93L433.65,318.93Z" fill="#fff" stroke="#0a0a0a" stroke-width="1"/>
<text x="444.40" y="318.50" font-size="10.5" text-anchor="start" font-weight="normal" fill="#111" stroke="#111" stroke-width="0.3" >TCF-1-/-</text>
<text x="-0.10" y="470.20" font-size="25.3" font-weight="bold" fill="#000" stroke="#000" stroke-width="0.6">C</text>
<text transform="translate(68.40,523.20) rotate(-90)" font-size="10.6" text-anchor="middle" fill="#111" stroke="#111" stroke-width="0.3" >Surviving cells (%)</text>
<text x="91.10" y="584.00" font-size="10.3" text-anchor="end" font-weight="normal" fill="#111" stroke="#111" stroke-width="0.3" >0</text>
<text x="91.10" y="564.60" font-size="10.3" text-anchor="end" font-weight="normal" fill="#111" stroke="#111" stroke-width="0.3" >20</text>
<text x="91.10" y="545.20" font-size="10.3" text-anchor="end" font-weight="normal" fill="#111" stroke="#111" stroke-width="0.3" >40</text>
<text x="91.10" y="525.80" font-size="10.3" text-anchor="end" font-weight="normal" fill="#111" stroke="#111" stroke-width="0.3" >60</text>
<text x="91.10" y="506.40" font-size="10.3" text-anchor="end" font-weight="normal" fill="#111" stroke="#111" stroke-width="0.3" >80</text>
<text x="91.10" y="487.00" font-size="10.3" text-anchor="end" font-weight="normal" fill="#111" stroke="#111" stroke-width="0.3" >100</text>
<text x="91.10" y="467.60" font-size="10.3" text-anchor="end" font-weight="normal" fill="#111" stroke="#111" stroke-width="0.3" >120</text>
<path d="M98.20,465.00L98.20,581.90" stroke="#ebebeb" stroke-width="1" fill="none"/>
<path d="M200.90,465.00L200.90,581.90" stroke="#ebebeb" stroke-width="1" fill="none"/>
<path d="M305.40,465.00L305.40,581.90" stroke="#ebebeb" stroke-width="1" fill="none"/>
<path d="M98.20,580.90L398.00,580.90" stroke="#f0f0f0" stroke-width="1" fill="none"/>
<text x="140.00" y="458.70" font-size="10.9" text-anchor="middle" font-weight="normal" fill="#111" stroke="#111" stroke-width="0.3" >DN3</text>
<text x="245.60" y="456.70" font-size="10.9" text-anchor="middle" font-weight="normal" fill="#111" stroke="#111" stroke-width="0.3" >DN4</text>
<text x="365.10" y="457.90" font-size="10.9" text-anchor="middle" font-weight="normal" fill="#111" stroke="#111" stroke-width="0.3" >B cells</text>
<text x="99.10" y="597.90" font-size="10.3" text-anchor="middle" font-weight="normal" fill="#111" stroke="#111" stroke-width="0.3" >0</text>
<text x="127.30" y="597.90" font-size="10.3" text-anchor="middle" font-weight="normal" fill="#111" stroke="#111" stroke-width="0.3" >3</text>
<text x="155.60" y="597.90" font-size="10.3" text-anchor="middle" font-weight="normal" fill="#111" stroke="#111" stroke-width="0.3" >6</text>
<text x="186.10" y="597.90" font-size="10.3" text-anchor="middle" font-weight="normal" fill="#111" stroke="#111" stroke-width="0.3" >12</text>
<text x="202.00" y="597.90" font-size="10.3" text-anchor="middle" font-weight="normal" fill="#111" stroke="#111" stroke-width="0.3" >0</text>
<text x="230.00" y="597.90" font-size="10.3" text-anchor="middle" font-weight="normal" fill="#111" stroke="#111" stroke-width="0.3" >3</text>
<text x="258.00" y="597.90" font-size="10.3" text-anchor="middle" font-weight="normal" fill="#111" stroke="#111" stroke-width="0.3" >6</text>
<text x="286.00" y="597.90" font-size="10.3" text-anchor="middle" font-weight="normal" fill="#111" stroke="#111" stroke-width="0.3" >12</text>
<text x="305.00" y="597.90" font-size="10.3" text-anchor="middle" font-weight="normal" fill="#111" stroke="#111" stroke-width="0.3" >0</text>
<text x="334.50" y="597.90" font-size="10.3" text-anchor="middle" font-weight="normal" fill="#111" stroke="#111" stroke-width="0.3" >3</text>
<text x="364.00" y="597.90" font-size="10.3" text-anchor="middle" font-weight="normal" fill="#111" stroke="#111" stroke-width="0.3" >6</text>
<text x="394.00" y="597.90" font-size="10.3" text-anchor="middle" font-weight="normal" fill="#111" stroke="#111" stroke-width="0.3" >12</text>
<text x="98.00" y="615.00" font-size="10.7" text-anchor="start" font-weight="normal" fill="#111" stroke="#111" stroke-width="0.3" >Time (h)</text>
<path d="M99.00,484.70L127.90,487.60L157.30,504.30L186.40,512.10" stroke="#111" stroke-width="1.2" fill="none"/>
<path d="M99.00,484.70L127.90,532.30L157.30,549.60L186.40,571.80" stroke="#111" stroke-width="1.2" fill="none"/>
<path d="M127.90,473.20V502.00M125.10,473.20h5.6M125.10,502.00h5.6" stroke="#1a1a1a" stroke-width="1.2" fill="none"/>
<path d="M157.30,483.30V526.00M154.50,483.30h5.6M154.50,526.00h5.6" stroke="#1a1a1a" stroke-width="1.2" fill="none"/>
<path d="M186.40,496.20V528.50M183.60,496.20h5.6M183.60,528.50h5.6" stroke="#1a1a1a" stroke-width="1.2" fill="none"/>
<path d="M127.90,515.60V547.60M125.10,515.60h5.6M125.10,547.60h5.6" stroke="#1a1a1a" stroke-width="1.2" fill="none"/>
<path d="M157.30,531.10V568.90M154.50,531.10h5.6M154.50,568.90h5.6" stroke="#1a1a1a" stroke-width="1.2" fill="none"/>
<path d="M186.40,562.60V578.40M183.60,562.60h5.6M183.60,578.40h5.6" stroke="#1a1a1a" stroke-width="1.2" fill="none"/>
<circle cx="99.00" cy="484.70" r="3.35" fill="#0a0a0a"/>
<circle cx="127.90" cy="487.60" r="3.35" fill="#0a0a0a"/>
<circle cx="157.30" cy="504.30" r="3.35" fill="#0a0a0a"/>
<circle cx="186.40" cy="512.10" r="3.35" fill="#0a0a0a"/>
<path d="M99.00,480.87L102.20,487.47L95.80,487.47Z" fill="#fff" stroke="#0a0a0a" stroke-width="1"/>
<path d="M127.90,528.47L131.10,535.07L124.70,535.07Z" fill="#fff" stroke="#0a0a0a" stroke-width="1"/>
<path d="M157.30,545.77L160.50,552.37L154.10,552.37Z" fill="#fff" stroke="#0a0a0a" stroke-width="1"/>
<path d="M186.40,567.97L189.60,574.57L183.20,574.57Z" fill="#fff" stroke="#0a0a0a" stroke-width="1"/>
<path d="M201.20,485.30L230.00,508.60L258.50,511.50L287.40,523.10" stroke="#111" stroke-width="1.2" fill="none"/>
<path d="M201.20,485.30L230.00,552.80L258.50,559.70L287.40,570.40" stroke="#111" stroke-width="1.2" fill="none"/>
<path d="M230.00,504.90V513.60M227.20,504.90h5.6M227.20,513.60h5.6" stroke="#1a1a1a" stroke-width="1.2" fill="none"/>
<path d="M258.50,493.90V529.40M255.70,493.90h5.6M255.70,529.40h5.6" stroke="#1a1a1a" stroke-width="1.2" fill="none"/>
<path d="M287.40,512.10V533.70M284.60,512.10h5.6M284.60,533.70h5.6" stroke="#1a1a1a" stroke-width="1.2" fill="none"/>
<path d="M230.00,545.90V559.70M227.20,545.90h5.6M227.20,559.70h5.6" stroke="#1a1a1a" stroke-width="1.2" fill="none"/>
<path d="M258.50,545.30V575.00M255.70,545.30h5.6M255.70,575.00h5.6" stroke="#1a1a1a" stroke-width="1.2" fill="none"/>
<path d="M287.40,566.00V573.30M284.60,566.00h5.6M284.60,573.30h5.6" stroke="#1a1a1a" stroke-width="1.2" fill="none"/>
<circle cx="201.20" cy="485.30" r="3.35" fill="#0a0a0a"/>
<circle cx="230.00" cy="508.60" r="3.35" fill="#0a0a0a"/>
<circle cx="258.50" cy="511.50" r="3.35" fill="#0a0a0a"/>
<circle cx="287.40" cy="523.10" r="3.35" fill="#0a0a0a"/>
<path d="M201.20,481.47L204.40,488.07L198.00,488.07Z" fill="#fff" stroke="#0a0a0a" stroke-width="1"/>
<path d="M230.00,548.97L233.20,555.57L226.80,555.57Z" fill="#fff" stroke="#0a0a0a" stroke-width="1"/>
<path d="M258.50,555.87L261.70,562.47L255.30,562.47Z" fill="#fff" stroke="#0a0a0a" stroke-width="1"/>
<path d="M287.40,566.57L290.60,573.17L284.20,573.17Z" fill="#fff" stroke="#0a0a0a" stroke-width="1"/>
<path d="M305.10,487.60L335.40,505.80L364.80,502.00L395.10,522.20" stroke="#111" stroke-width="1.2" fill="none"/>
<path d="M305.10,487.60L335.40,499.10L364.80,510.70L395.10,524.50" stroke="#111" stroke-width="1.2" fill="none"/>
<path d="M335.40,494.80V518.70M332.60,494.80h5.6M332.60,518.70h5.6" stroke="#1a1a1a" stroke-width="1.2" fill="none"/>
<path d="M364.80,487.60V512.10M362.00,487.60h5.6M362.00,512.10h5.6" stroke="#1a1a1a" stroke-width="1.2" fill="none"/>
<path d="M364.80,493.40V528.00M362.00,493.40h5.6M362.00,528.00h5.6" stroke="#1a1a1a" stroke-width="1.2" fill="none"/>
<path d="M395.10,508.60V536.00M392.30,508.60h5.6M392.30,536.00h5.6" stroke="#1a1a1a" stroke-width="1.2" fill="none"/>
<path d="M395.10,516.00V531.00M392.30,516.00h5.6M392.30,531.00h5.6" stroke="#1a1a1a" stroke-width="1.2" fill="none"/>
<circle cx="305.10" cy="487.60" r="3.35" fill="#0a0a0a"/>
<circle cx="335.40" cy="505.80" r="3.35" fill="#0a0a0a"/>
<circle cx="364.80" cy="502.00" r="3.35" fill="#0a0a0a"/>
<circle cx="395.10" cy="522.20" r="3.35" fill="#0a0a0a"/>
<path d="M305.10,483.77L308.30,490.37L301.90,490.37Z" fill="#fff" stroke="#0a0a0a" stroke-width="1"/>
<path d="M335.40,495.27L338.60,501.87L332.20,501.87Z" fill="#fff" stroke="#0a0a0a" stroke-width="1"/>
<path d="M364.80,506.87L368.00,513.47L361.60,513.47Z" fill="#fff" stroke="#0a0a0a" stroke-width="1"/>
<path d="M395.10,520.67L398.30,527.27L391.90,527.27Z" fill="#fff" stroke="#0a0a0a" stroke-width="1"/>
<path d="M329.60,555.40L349.20,555.40" stroke="#111" stroke-width="1.2" fill="none"/>
<circle cx="338.60" cy="555.40" r="3.35" fill="#0a0a0a"/>
<text x="351.50" y="559.00" font-size="10.6" text-anchor="start" font-weight="normal" fill="#111" stroke="#111" stroke-width="0.3" >TCF-1+/+</text>
<path d="M329.60,571.20L349.20,571.20" stroke="#111" stroke-width="1.2" fill="none"/>
<path d="M338.60,566.77L341.80,573.37L335.40,573.37Z" fill="#fff" stroke="#0a0a0a" stroke-width="1"/>
<text x="351.50" y="572.40" font-size="10.6" text-anchor="start" font-weight="normal" fill="#111" stroke="#111" stroke-width="0.3" >TCF-1-/-</text>
<text x="-2.00" y="656.90" font-size="25.3" font-weight="bold" fill="#000" stroke="#000" stroke-width="0.6">D</text>
<text x="129.30" y="646.00" font-size="10.7" text-anchor="middle" font-weight="normal" fill="#111" stroke="#111" stroke-width="0.3" >DN3 icTCRβ<tspan font-size="10.70" dy="-3.3" dx="0.7">-</tspan></text>
<text x="246.00" y="646.00" font-size="10.7" text-anchor="middle" font-weight="normal" fill="#111" stroke="#111" stroke-width="0.3" >DN3 icTCRβ<tspan font-size="10.70" dy="-2.4" dx="0.7">+</tspan></text>
<text x="354.20" y="647.50" font-size="10.7" text-anchor="middle" font-weight="normal" fill="#111" stroke="#111" stroke-width="0.3" >DN4 icTCRβ<tspan font-size="10.70" dy="-2.4" dx="0.7">+</tspan></text>
<text x="4.00" y="701.00" font-size="10.3" text-anchor="start" font-weight="normal" fill="#111" stroke="#111" stroke-width="0.3" >TCF-1<tspan dy="-3.2" dx="1.2" font-size="10.3" letter-spacing="0.9">+/+</tspan></text>
<text x="7.50" y="800.00" font-size="10.3" text-anchor="start" font-weight="normal" fill="#111" stroke="#111" stroke-width="0.3" >TCF-1<tspan dy="-3.2" dx="1.2" font-size="10.3" letter-spacing="0.6">-/-</tspan></text>
<path d="M84.02,753.60L84.02,743.76L84.62,743.76L84.62,743.12L85.22,743.12L85.22,743.10L85.82,743.10L85.82,742.70L86.42,742.70L86.42,742.02L87.02,742.02L87.02,741.75L87.62,741.75L87.62,740.93L88.22,740.93L88.22,740.23L88.82,740.23L88.82,739.78L89.42,739.78L89.42,739.04L90.02,739.04L90.02,738.27L90.62,738.27L90.62,736.77L91.22,736.77L91.22,735.71L91.82,735.71L91.82,734.30L92.42,734.30L92.42,732.65L93.02,732.65L93.02,731.24L93.62,731.24L93.62,729.65L94.22,729.65L94.22,727.68L94.82,727.68L94.82,725.94L95.42,725.94L95.42,724.80L96.02,724.80L96.02,722.56L96.62,722.56L96.62,721.47L97.22,721.47L97.22,719.21L97.82,719.21L97.82,715.72L98.42,715.72L98.42,713.58L99.02,713.58L99.02,711.22L99.62,711.22L99.62,709.22L100.22,709.22L100.22,705.03L100.82,705.03L100.82,702.62L101.42,702.62L101.42,698.56L102.02,698.56L102.02,693.69L102.62,693.69L102.62,688.21L103.22,688.21L103.22,681.93L103.82,681.93L103.82,678.59L104.42,678.59L104.42,671.29L105.02,671.29L105.02,667.27L105.62,667.27L105.62,659.85L106.22,659.85L106.22,655.05L106.82,655.05L106.82,653.60L107.42,653.60L107.42,653.60L108.02,653.60L108.02,653.60L108.62,653.60L108.62,653.60L109.22,653.60L109.22,653.60L109.82,653.60L109.82,653.60L110.42,653.60L110.42,653.60L111.02,653.60L111.02,653.60L111.62,653.60L111.62,653.60L112.22,653.60L112.22,653.60L112.82,653.60L112.82,653.60L113.42,653.60L113.42,653.60L114.02,653.60L114.02,653.60L114.62,653.60L114.62,653.60L115.22,653.60L115.22,653.60L115.82,653.60L115.82,653.60L116.42,653.60L116.42,663.42L117.02,663.42L117.02,666.96L117.62,666.96L117.62,672.21L118.22,672.21L118.22,675.30L118.82,675.30L118.82,680.78L119.42,680.78L119.42,682.91L120.02,682.91L120.02,688.87L120.62,688.87L120.62,689.76L121.22,689.76L121.22,693.85L121.82,693.85L121.82,695.58L122.42,695.58L122.42,698.45L123.02,698.45L123.02,701.52L123.62,701.52L123.62,704.07L124.22,704.07L124.22,707.12L124.82,707.12L124.82,708.86L125.42,708.86L125.42,712.28L126.02,712.28L126.02,714.18L126.62,714.18L126.62,716.86L127.22,716.86L127.22,717.89L127.82,717.89L127.82,720.87L128.42,720.87L128.42,722.01L129.02,722.01L129.02,723.92L129.62,723.92L129.62,726.46L130.22,726.46L130.22,728.88L130.82,728.88L130.82,731.43L131.42,731.43L131.42,733.40L132.02,733.40L132.02,734.81L132.62,734.81L132.62,736.48L133.22,736.48L133.22,737.61L133.82,737.61L133.82,738.77L134.42,738.77L134.42,740.29L135.02,740.29L135.02,741.29L135.62,741.29L135.62,742.40L136.22,742.40L136.22,743.40L136.82,743.40L136.82,744.28L137.42,744.28L137.42,745.09L138.02,745.09L138.02,745.50L138.62,745.50L138.62,746.22L139.22,746.22L139.22,746.72L139.82,746.72L139.82,747.18L140.42,747.18L140.42,747.62L141.02,747.62L141.02,748.22L141.62,748.22L141.62,748.68L142.22,748.68L142.22,748.86L142.82,748.86L142.82,749.14L143.42,749.14L143.42,749.29L144.02,749.29L144.02,749.74L144.62,749.74L144.62,749.90L145.22,749.90L145.22,750.10L145.82,750.10L145.82,750.38L146.42,750.38L146.42,750.52L147.02,750.52L147.02,750.76L147.62,750.76L147.62,750.82L148.22,750.82L148.22,750.99L148.82,750.99L148.82,750.98L149.42,750.98L149.42,751.03L150.02,751.03L150.02,751.20L150.62,751.20L150.62,751.35L151.22,751.35L151.22,751.43L151.82,751.43L151.82,751.49L152.42,751.49L152.42,751.57L153.02,751.57L153.02,751.70L153.62,751.70L153.62,751.85L154.22,751.85L154.22,751.96L154.82,751.96L154.82,751.97L155.42,751.97L155.42,752.03L156.02,752.03L156.02,752.16L156.62,752.16L156.62,752.22L157.22,752.22L157.22,752.23L157.82,752.23L157.82,752.19L158.42,752.19L158.42,752.29L159.02,752.29L159.02,752.45L159.62,752.45L159.62,752.49L160.22,752.49L160.22,752.47L160.82,752.47L160.82,752.46L161.42,752.46L161.42,752.62L162.02,752.62L162.02,752.68L162.62,752.68L162.62,752.70L163.22,752.70L163.22,752.75L163.82,752.75L163.82,752.76L164.42,752.76L164.42,752.85L165.02,752.85L165.02,752.86L165.62,752.86L165.62,752.86L166.22,752.86L166.22,753.02L166.82,753.02L166.82,752.99L167.42,752.99L167.42,752.96L168.02,752.96L168.02,753.06L168.62,753.06L168.62,753.03L169.22,753.03L169.22,753.08L169.82,753.08L169.82,753.08L170.42,753.08L170.42,753.04L171.02,753.04L171.02,753.05L171.62,753.05L171.62,753.12L172.22,753.12L172.22,753.17L172.82,753.17L172.82,753.11L173.42,753.11L173.42,753.16L174.02,753.16L174.02,753.22L174.62,753.22L174.62,753.18L175.22,753.18L175.22,753.19L175.82,753.19L175.82,753.26L176.42,753.26L176.42,753.27L177.02,753.27L177.02,753.20L177.62,753.20L177.62,753.23L178.22,753.23L178.22,753.24L178.82,753.24L178.82,753.30L179.42,753.30L179.42,753.32L180.02,753.32L180.02,753.39L180.62,753.39L180.62,753.41L181.22,753.41L181.22,753.32L181.82,753.32L181.82,753.32L182.42,753.32L182.42,753.42L182.97,753.42L182.97,753.60Z" fill="#0a0a0a" stroke="#0a0a0a" stroke-width="0.4"/>
<rect x="83.60" y="653.60" width="100.70" height="100.00" fill="none" stroke="#111" stroke-width="1.15"/>
<path d="M83.60,753.60h-3.2M83.60,749.60h-2.0M83.60,745.60h-2.0M83.60,741.60h-2.0M83.60,737.60h-2.0M83.60,733.60h-3.2M83.60,729.60h-2.0M83.60,725.60h-2.0M83.60,721.60h-2.0M83.60,717.60h-2.0M83.60,713.60h-3.2M83.60,709.60h-2.0M83.60,705.60h-2.0M83.60,701.60h-2.0M83.60,697.60h-2.0M83.60,693.60h-3.2M83.60,689.60h-2.0M83.60,685.60h-2.0M83.60,681.60h-2.0M83.60,677.60h-2.0M83.60,673.60h-3.2M83.60,669.60h-2.0M83.60,665.60h-2.0M83.60,661.60h-2.0M83.60,657.60h-2.0M83.60,653.60h-3.2M83.60,753.60v3.2M91.18,753.60v2M95.61,753.60v2M98.76,753.60v2M101.20,753.60v2M103.19,753.60v2M104.88,753.60v2M106.34,753.60v2M107.62,753.60v2M108.78,753.60v3.2M116.35,753.60v2M120.79,753.60v2M123.93,753.60v2M126.37,753.60v2M128.36,753.60v2M130.05,753.60v2M131.51,753.60v2M132.80,753.60v2M133.95,753.60v3.2M141.53,753.60v2M145.96,753.60v2M149.11,753.60v2M151.55,753.60v2M153.54,753.60v2M155.23,753.60v2M156.69,753.60v2M157.97,753.60v2M159.12,753.60v3.2M166.70,753.60v2M171.14,753.60v2M174.28,753.60v2M176.72,753.60v2M178.71,753.60v2M180.40,753.60v2M181.86,753.60v2M183.15,753.60v2M184.30,753.60v3.2" stroke="#111" stroke-width="0.95" fill="none"/>
<path d="M141.20,699.80H181.40M141.20,693.40v12.8M181.40,693.40v12.8" stroke="#2a2a2a" stroke-width="1.2" fill="none"/>
<text x="141.00" y="685.30" font-size="10.75" text-anchor="start" font-weight="normal" fill="#111" stroke="#111" stroke-width="0.3" >1.0±0.8</text>
<path d="M194.42,753.60L194.42,745.65L195.02,745.65L195.02,737.50L195.62,737.50L195.62,730.74L196.22,730.74L196.22,739.74L196.82,739.74L196.82,747.77L197.42,747.77L197.42,747.80L198.02,747.80L198.02,746.98L198.62,746.98L198.62,746.93L199.22,746.93L199.22,746.57L199.82,746.57L199.82,746.54L200.42,746.54L200.42,746.04L201.02,746.04L201.02,745.60L201.62,745.60L201.62,745.51L202.22,745.51L202.22,745.01L202.82,745.01L202.82,744.98L203.42,744.98L203.42,744.71L204.02,744.71L204.02,744.51L204.62,744.51L204.62,743.92L205.22,743.92L205.22,743.55L205.82,743.55L205.82,742.65L206.42,742.65L206.42,742.04L207.02,742.04L207.02,740.52L207.62,740.52L207.62,733.97L208.22,733.97L208.22,728.50L208.82,728.50L208.82,734.75L209.42,734.75L209.42,739.51L210.02,739.51L210.02,737.14L210.62,737.14L210.62,736.19L211.22,736.19L211.22,732.29L211.82,732.29L211.82,732.03L212.42,732.03L212.42,729.28L213.02,729.28L213.02,724.03L213.62,724.03L213.62,721.97L214.22,721.97L214.22,721.16L214.82,721.16L214.82,721.98L215.42,721.98L215.42,718.74L216.02,718.74L216.02,718.78L216.62,718.78L216.62,716.48L217.22,716.48L217.22,711.77L217.82,711.77L217.82,707.99L218.42,707.99L218.42,700.41L219.02,700.41L219.02,695.98L219.62,695.98L219.62,696.04L220.22,696.04L220.22,688.69L220.82,688.69L220.82,684.57L221.42,684.57L221.42,678.59L222.02,678.59L222.02,671.34L222.62,671.34L222.62,668.55L223.22,668.55L223.22,672.44L223.82,672.44L223.82,662.58L224.42,662.58L224.42,667.59L225.02,667.59L225.02,661.57L225.62,661.57L225.62,663.05L226.22,663.05L226.22,659.94L226.82,659.94L226.82,659.44L227.42,659.44L227.42,658.31L228.02,658.31L228.02,653.20L228.62,653.20L228.62,657.24L229.22,657.24L229.22,655.27L229.82,655.27L229.82,653.20L230.42,653.20L230.42,653.20L231.02,653.20L231.02,653.20L231.62,653.20L231.62,653.20L232.22,653.20L232.22,653.20L232.82,653.20L232.82,657.41L233.42,657.41L233.42,653.42L234.02,653.42L234.02,660.53L234.62,660.53L234.62,664.24L235.22,664.24L235.22,662.92L235.82,662.92L235.82,662.38L236.42,662.38L236.42,667.45L237.02,667.45L237.02,670.29L237.62,670.29L237.62,667.86L238.22,667.86L238.22,674.44L238.82,674.44L238.82,671.91L239.42,671.91L239.42,679.60L240.02,679.60L240.02,678.21L240.62,678.21L240.62,687.30L241.22,687.30L241.22,687.88L241.82,687.88L241.82,696.22L242.42,696.22L242.42,700.39L243.02,700.39L243.02,703.87L243.62,703.87L243.62,709.58L244.22,709.58L244.22,709.91L244.82,709.91L244.82,716.61L245.42,716.61L245.42,719.96L246.02,719.96L246.02,719.48L246.62,719.48L246.62,721.87L247.22,721.87L247.22,724.83L247.82,724.83L247.82,726.61L248.42,726.61L248.42,727.27L249.02,727.27L249.02,728.37L249.62,728.37L249.62,729.22L250.22,729.22L250.22,730.90L250.82,730.90L250.82,733.39L251.42,733.39L251.42,734.28L252.02,734.28L252.02,735.19L252.62,735.19L252.62,737.52L253.22,737.52L253.22,739.78L253.82,739.78L253.82,741.01L254.42,741.01L254.42,742.69L255.02,742.69L255.02,743.45L255.62,743.45L255.62,744.54L256.22,744.54L256.22,745.56L256.82,745.56L256.82,746.58L257.42,746.58L257.42,746.74L258.02,746.74L258.02,747.46L258.62,747.46L258.62,747.96L259.22,747.96L259.22,748.32L259.82,748.32L259.82,748.56L260.42,748.56L260.42,749.33L261.02,749.33L261.02,749.63L261.62,749.63L261.62,749.87L262.22,749.87L262.22,750.34L262.82,750.34L262.82,750.38L263.42,750.38L263.42,750.41L264.02,750.41L264.02,750.81L264.62,750.81L264.62,750.80L265.22,750.80L265.22,751.01L265.82,751.01L265.82,751.15L266.42,751.15L266.42,751.26L267.02,751.26L267.02,751.57L267.62,751.57L267.62,751.67L268.22,751.67L268.22,751.81L268.82,751.81L268.82,752.19L269.42,752.19L269.42,752.13L270.02,752.13L270.02,752.21L270.62,752.21L270.62,752.10L271.22,752.10L271.22,752.32L271.82,752.32L271.82,752.21L272.42,752.21L272.42,752.24L273.02,752.24L273.02,752.29L273.62,752.29L273.62,752.53L274.22,752.53L274.22,752.40L274.82,752.40L274.82,752.43L275.42,752.43L275.42,752.54L276.02,752.54L276.02,752.47L276.62,752.47L276.62,752.63L277.22,752.63L277.22,752.57L277.82,752.57L277.82,752.84L278.42,752.84L278.42,752.94L279.02,752.94L279.02,752.89L279.62,752.89L279.62,752.97L280.22,752.97L280.22,753.06L280.82,753.06L280.82,753.11L281.42,753.11L281.42,752.96L282.02,752.96L282.02,753.13L282.62,753.13L282.62,753.07L283.22,753.07L283.22,753.02L283.82,753.02L283.82,753.12L284.42,753.12L284.42,752.95L285.02,752.95L285.02,753.02L285.62,753.02L285.62,753.01L286.22,753.01L286.22,753.05L286.82,753.05L286.82,753.34L287.42,753.34L287.42,753.04L288.02,753.04L288.02,753.29L288.62,753.29L288.62,753.36L289.22,753.36L289.22,753.15L289.82,753.15L289.82,753.38L290.42,753.38L290.42,753.15L291.02,753.15L291.02,753.16L291.62,753.16L291.62,753.20L292.22,753.20L292.22,753.18L292.82,753.18L292.82,753.21L293.42,753.21L293.42,753.29L294.02,753.29L294.02,753.29L294.62,753.29L294.62,753.25L294.99,753.25L294.99,753.60Z" fill="#0a0a0a" stroke="#0a0a0a" stroke-width="0.4"/>
<rect x="194.40" y="653.20" width="101.30" height="100.40" fill="none" stroke="#111" stroke-width="1.15"/>
<path d="M194.40,753.60h-3.2M194.40,749.58h-2.0M194.40,745.57h-2.0M194.40,741.55h-2.0M194.40,737.54h-2.0M194.40,733.52h-3.2M194.40,729.50h-2.0M194.40,725.49h-2.0M194.40,721.47h-2.0M194.40,717.46h-2.0M194.40,713.44h-3.2M194.40,709.42h-2.0M194.40,705.41h-2.0M194.40,701.39h-2.0M194.40,697.38h-2.0M194.40,693.36h-3.2M194.40,689.34h-2.0M194.40,685.33h-2.0M194.40,681.31h-2.0M194.40,677.30h-2.0M194.40,673.28h-3.2M194.40,669.26h-2.0M194.40,665.25h-2.0M194.40,661.23h-2.0M194.40,657.22h-2.0M194.40,653.20h-3.2M194.40,753.60v3.2M202.02,753.60v2M206.48,753.60v2M209.65,753.60v2M212.10,753.60v2M214.11,753.60v2M215.80,753.60v2M217.27,753.60v2M218.57,753.60v2M219.72,753.60v3.2M227.35,753.60v2M231.81,753.60v2M234.97,753.60v2M237.43,753.60v2M239.43,753.60v2M241.13,753.60v2M242.60,753.60v2M243.89,753.60v2M245.05,753.60v3.2M252.67,753.60v2M257.13,753.60v2M260.30,753.60v2M262.75,753.60v2M264.76,753.60v2M266.45,753.60v2M267.92,753.60v2M269.22,753.60v2M270.38,753.60v3.2M278.00,753.60v2M282.46,753.60v2M285.62,753.60v2M288.08,753.60v2M290.08,753.60v2M291.78,753.60v2M293.25,753.60v2M294.54,753.60v2M295.70,753.60v3.2" stroke="#111" stroke-width="0.95" fill="none"/>
<path d="M252.50,699.30H292.40M252.50,692.90v12.8M292.40,692.90v12.8" stroke="#2a2a2a" stroke-width="1.2" fill="none"/>
<text x="253.10" y="684.70" font-size="10.75" text-anchor="start" font-weight="normal" fill="#111" stroke="#111" stroke-width="0.3" >1.6±0.7</text>
<path d="M318.16,753.60L318.16,753.37L318.76,753.37L318.76,753.27L319.36,753.27L319.36,753.14L319.96,753.14L319.96,752.98L320.56,752.98L320.56,752.76L321.16,752.76L321.16,752.54L321.76,752.54L321.76,752.44L322.36,752.44L322.36,752.33L322.96,752.33L322.96,752.12L323.56,752.12L323.56,752.09L324.16,752.09L324.16,751.93L324.76,751.93L324.76,751.60L325.36,751.60L325.36,751.44L325.96,751.44L325.96,751.04L326.56,751.04L326.56,750.85L327.16,750.85L327.16,750.68L327.76,750.68L327.76,750.47L328.36,750.47L328.36,750.13L328.96,750.13L328.96,749.92L329.56,749.92L329.56,749.21L330.16,749.21L330.16,748.30L330.76,748.30L330.76,747.69L331.36,747.69L331.36,746.79L331.96,746.79L331.96,745.86L332.56,745.86L332.56,743.20L333.16,743.20L333.16,740.73L333.76,740.73L333.76,737.87L334.36,737.87L334.36,734.18L334.96,734.18L334.96,730.50L335.56,730.50L335.56,726.33L336.16,726.33L336.16,721.37L336.76,721.37L336.76,717.86L337.36,717.86L337.36,711.12L337.96,711.12L337.96,708.59L338.56,708.59L338.56,704.07L339.16,704.07L339.16,696.26L339.76,696.26L339.76,692.26L340.36,692.26L340.36,686.24L340.96,686.24L340.96,682.10L341.56,682.10L341.56,676.46L342.16,676.46L342.16,672.75L342.76,672.75L342.76,669.30L343.36,669.30L343.36,666.24L343.96,666.24L343.96,667.74L344.56,667.74L344.56,663.14L345.16,663.14L345.16,666.01L345.76,666.01L345.76,667.19L346.36,667.19L346.36,669.79L346.96,669.79L346.96,670.69L347.56,670.69L347.56,670.23L348.16,670.23L348.16,670.46L348.76,670.46L348.76,676.36L349.36,676.36L349.36,680.17L349.96,680.17L349.96,681.92L350.56,681.92L350.56,686.87L351.16,686.87L351.16,695.15L351.76,695.15L351.76,697.64L352.36,697.64L352.36,701.24L352.96,701.24L352.96,707.42L353.56,707.42L353.56,710.98L354.16,710.98L354.16,716.39L354.76,716.39L354.76,720.32L355.36,720.32L355.36,722.72L355.96,722.72L355.96,725.51L356.56,725.51L356.56,728.33L357.16,728.33L357.16,730.17L357.76,730.17L357.76,731.93L358.36,731.93L358.36,734.24L358.96,734.24L358.96,735.06L359.56,735.06L359.56,736.83L360.16,736.83L360.16,738.41L360.76,738.41L360.76,739.45L361.36,739.45L361.36,740.41L361.96,740.41L361.96,741.05L362.56,741.05L362.56,742.22L363.16,742.22L363.16,742.59L363.76,742.59L363.76,743.51L364.36,743.51L364.36,744.28L364.96,744.28L364.96,744.99L365.56,744.99L365.56,745.66L366.16,745.66L366.16,746.32L366.76,746.32L366.76,746.82L367.36,746.82L367.36,747.05L367.96,747.05L367.96,747.28L368.56,747.28L368.56,747.58L369.16,747.58L369.16,747.67L369.76,747.67L369.76,748.20L370.36,748.20L370.36,748.50L370.96,748.50L370.96,748.62L371.56,748.62L371.56,749.00L372.16,749.00L372.16,748.86L372.76,748.86L372.76,749.16L373.36,749.16L373.36,749.17L373.96,749.17L373.96,749.31L374.56,749.31L374.56,749.29L375.16,749.29L375.16,749.46L375.76,749.46L375.76,749.75L376.36,749.75L376.36,749.66L376.96,749.66L376.96,749.59L377.56,749.59L377.56,749.87L378.16,749.87L378.16,749.77L378.76,749.77L378.76,749.99L379.36,749.99L379.36,749.82L379.96,749.82L379.96,749.83L380.56,749.83L380.56,750.08L381.16,750.08L381.16,749.88L381.76,749.88L381.76,749.97L382.36,749.97L382.36,749.92L382.96,749.92L382.96,749.90L383.56,749.90L383.56,750.03L384.16,750.03L384.16,749.96L384.76,749.96L384.76,749.82L385.36,749.82L385.36,749.70L385.96,749.70L385.96,749.46L386.56,749.46L386.56,749.17L387.16,749.17L387.16,748.96L387.76,748.96L387.76,749.17L388.36,749.17L388.36,749.92L388.96,749.92L388.96,750.40L389.56,750.40L389.56,750.99L390.16,750.99L390.16,751.59L390.76,751.59L390.76,752.20L391.36,752.20L391.36,752.34L391.96,752.34L391.96,752.63L392.56,752.63L392.56,752.98L393.16,752.98L393.16,753.22L393.76,753.22L393.76,753.50L393.88,753.50L393.88,753.60Z" fill="#0a0a0a" stroke="#0a0a0a" stroke-width="0.4"/>
<rect x="306.20" y="653.20" width="100.80" height="100.40" fill="none" stroke="#111" stroke-width="1.15"/>
<path d="M306.20,753.60h-3.2M306.20,749.58h-2.0M306.20,745.57h-2.0M306.20,741.55h-2.0M306.20,737.54h-2.0M306.20,733.52h-3.2M306.20,729.50h-2.0M306.20,725.49h-2.0M306.20,721.47h-2.0M306.20,717.46h-2.0M306.20,713.44h-3.2M306.20,709.42h-2.0M306.20,705.41h-2.0M306.20,701.39h-2.0M306.20,697.38h-2.0M306.20,693.36h-3.2M306.20,689.34h-2.0M306.20,685.33h-2.0M306.20,681.31h-2.0M306.20,677.30h-2.0M306.20,673.28h-3.2M306.20,669.26h-2.0M306.20,665.25h-2.0M306.20,661.23h-2.0M306.20,657.22h-2.0M306.20,653.20h-3.2M306.20,753.60v3.2M313.79,753.60v2M318.22,753.60v2M321.37,753.60v2M323.81,753.60v2M325.81,753.60v2M327.50,753.60v2M328.96,753.60v2M330.25,753.60v2M331.40,753.60v3.2M338.99,753.60v2M343.42,753.60v2M346.57,753.60v2M349.01,753.60v2M351.01,753.60v2M352.70,753.60v2M354.16,753.60v2M355.45,753.60v2M356.60,753.60v3.2M364.19,753.60v2M368.62,753.60v2M371.77,753.60v2M374.21,753.60v2M376.21,753.60v2M377.90,753.60v2M379.36,753.60v2M380.65,753.60v2M381.80,753.60v3.2M389.39,753.60v2M393.82,753.60v2M396.97,753.60v2M399.41,753.60v2M401.41,753.60v2M403.10,753.60v2M404.56,753.60v2M405.85,753.60v2M407.00,753.60v3.2" stroke="#111" stroke-width="0.95" fill="none"/>
<path d="M363.70,699.20H403.80M363.70,692.80v12.8M403.80,692.80v12.8" stroke="#2a2a2a" stroke-width="1.2" fill="none"/>
<text x="362.60" y="684.70" font-size="10.75" text-anchor="start" font-weight="normal" fill="#111" stroke="#111" stroke-width="0.3" >3.8±0.9</text>
<path d="M85.63,864.00L85.63,863.18L86.23,863.18L86.23,861.99L86.83,861.99L86.83,861.09L87.43,861.09L87.43,861.25L88.03,861.25L88.03,861.37L88.63,861.37L88.63,861.63L89.23,861.63L89.23,861.11L89.83,861.11L89.83,859.62L90.43,859.62L90.43,858.31L91.03,858.31L91.03,857.22L91.63,857.22L91.63,858.46L92.23,858.46L92.23,859.81L92.83,859.81L92.83,860.95L93.43,860.95L93.43,860.31L94.03,860.31L94.03,859.84L94.63,859.84L94.63,858.86L95.23,858.86L95.23,857.43L95.83,857.43L95.83,855.62L96.43,855.62L96.43,852.51L97.03,852.51L97.03,852.39L97.63,852.39L97.63,851.92L98.23,851.92L98.23,850.39L98.83,850.39L98.83,850.55L99.43,850.55L99.43,851.51L100.03,851.51L100.03,852.81L100.63,852.81L100.63,855.08L101.23,855.08L101.23,852.38L101.83,852.38L101.83,849.26L102.43,849.26L102.43,844.11L103.03,844.11L103.03,835.43L103.63,835.43L103.63,832.92L104.23,832.92L104.23,831.03L104.83,831.03L104.83,831.04L105.43,831.04L105.43,828.62L106.03,828.62L106.03,827.76L106.63,827.76L106.63,829.78L107.23,829.78L107.23,827.09L107.83,827.09L107.83,820.64L108.43,820.64L108.43,821.21L109.03,821.21L109.03,816.68L109.63,816.68L109.63,807.03L110.23,807.03L110.23,804.60L110.83,804.60L110.83,796.54L111.43,796.54L111.43,792.74L112.03,792.74L112.03,788.47L112.63,788.47L112.63,775.48L113.23,775.48L113.23,774.34L113.83,774.34L113.83,766.18L114.43,766.18L114.43,764.10L115.03,764.10L115.03,764.10L115.63,764.10L115.63,769.51L116.23,769.51L116.23,772.22L116.83,772.22L116.83,775.20L117.43,775.20L117.43,776.58L118.03,776.58L118.03,764.10L118.63,764.10L118.63,764.10L119.23,764.10L119.23,764.10L119.83,764.10L119.83,764.10L120.43,764.10L120.43,767.59L121.03,767.59L121.03,783.92L121.63,783.92L121.63,782.23L122.23,782.23L122.23,781.80L122.83,781.80L122.83,776.78L123.43,776.78L123.43,780.17L124.03,780.17L124.03,791.72L124.63,791.72L124.63,790.73L125.23,790.73L125.23,802.01L125.83,802.01L125.83,801.21L126.43,801.21L126.43,801.68L127.03,801.68L127.03,803.84L127.63,803.84L127.63,807.29L128.23,807.29L128.23,817.52L128.83,817.52L128.83,816.50L129.43,816.50L129.43,820.70L130.03,820.70L130.03,821.89L130.63,821.89L130.63,825.39L131.23,825.39L131.23,832.63L131.83,832.63L131.83,836.57L132.43,836.57L132.43,842.92L133.03,842.92L133.03,845.91L133.63,845.91L133.63,847.95L134.23,847.95L134.23,851.05L134.83,851.05L134.83,849.41L135.43,849.41L135.43,848.78L136.03,848.78L136.03,850.46L136.63,850.46L136.63,853.82L137.23,853.82L137.23,857.00L137.83,857.00L137.83,858.76L138.43,858.76L138.43,859.95L139.03,859.95L139.03,861.46L139.63,861.46L139.63,861.48L140.23,861.48L140.23,861.29L140.83,861.29L140.83,860.86L141.43,860.86L141.43,860.55L142.03,860.55L142.03,859.92L142.63,859.92L142.63,860.03L143.23,860.03L143.23,860.39L143.83,860.39L143.83,860.26L144.43,860.26L144.43,860.80L145.03,860.80L145.03,860.61L145.63,860.61L145.63,861.15L146.23,861.15L146.23,861.01L146.83,861.01L146.83,860.98L147.43,860.98L147.43,860.65L148.03,860.65L148.03,860.63L148.63,860.63L148.63,860.14L149.23,860.14L149.23,860.61L149.83,860.61L149.83,860.09L150.43,860.09L150.43,860.25L151.03,860.25L151.03,860.33L151.63,860.33L151.63,860.08L152.23,860.08L152.23,860.55L152.83,860.55L152.83,860.62L153.43,860.62L153.43,860.41L154.03,860.41L154.03,860.95L154.63,860.95L154.63,860.71L155.23,860.71L155.23,860.40L155.83,860.40L155.83,860.20L156.43,860.20L156.43,860.15L157.03,860.15L157.03,859.48L157.63,859.48L157.63,859.00L158.23,859.00L158.23,858.71L158.83,858.71L158.83,859.46L159.43,859.46L159.43,859.19L160.03,859.19L160.03,860.17L160.63,860.17L160.63,860.42L161.23,860.42L161.23,860.99L161.83,860.99L161.83,861.54L162.43,861.54L162.43,862.67L163.03,862.67L163.03,863.17L163.63,863.17L163.63,863.94L163.79,863.94L163.79,864.00Z" fill="#0a0a0a" stroke="#0a0a0a" stroke-width="0.4"/>
<rect x="85.60" y="764.10" width="101.20" height="99.90" fill="none" stroke="#111" stroke-width="1.15"/>
<path d="M85.60,864.00h-3.2M85.60,860.00h-2.0M85.60,856.01h-2.0M85.60,852.01h-2.0M85.60,848.02h-2.0M85.60,844.02h-3.2M85.60,840.02h-2.0M85.60,836.03h-2.0M85.60,832.03h-2.0M85.60,828.04h-2.0M85.60,824.04h-3.2M85.60,820.04h-2.0M85.60,816.05h-2.0M85.60,812.05h-2.0M85.60,808.06h-2.0M85.60,804.06h-3.2M85.60,800.06h-2.0M85.60,796.07h-2.0M85.60,792.07h-2.0M85.60,788.08h-2.0M85.60,784.08h-3.2M85.60,780.08h-2.0M85.60,776.09h-2.0M85.60,772.09h-2.0M85.60,768.10h-2.0M85.60,764.10h-3.2M85.60,864.00v3.2M93.22,864.00v2M97.67,864.00v2M100.83,864.00v2M103.28,864.00v2M105.29,864.00v2M106.98,864.00v2M108.45,864.00v2M109.74,864.00v2M110.90,864.00v3.2M118.52,864.00v2M122.97,864.00v2M126.13,864.00v2M128.58,864.00v2M130.59,864.00v2M132.28,864.00v2M133.75,864.00v2M135.04,864.00v2M136.20,864.00v3.2M143.82,864.00v2M148.27,864.00v2M151.43,864.00v2M153.88,864.00v2M155.89,864.00v2M157.58,864.00v2M159.05,864.00v2M160.34,864.00v2M161.50,864.00v3.2M169.12,864.00v2M173.57,864.00v2M176.73,864.00v2M179.18,864.00v2M181.19,864.00v2M182.88,864.00v2M184.35,864.00v2M185.64,864.00v2M186.80,864.00v3.2" stroke="#111" stroke-width="0.95" fill="none"/>
<path d="M143.60,811.00H184.00M143.60,804.60v12.8M184.00,804.60v12.8" stroke="#2a2a2a" stroke-width="1.2" fill="none"/>
<text x="142.30" y="790.20" font-size="10.75" text-anchor="start" font-weight="normal" fill="#111" stroke="#111" stroke-width="0.3" >4.4±2.1</text>
<path d="M195.43,864.00L195.43,851.81L196.03,851.81L196.03,844.72L196.63,844.72L196.63,855.02L197.23,855.02L197.23,856.37L197.83,856.37L197.83,855.58L198.43,855.58L198.43,855.22L199.03,855.22L199.03,855.18L199.63,855.18L199.63,855.36L200.23,855.36L200.23,856.51L200.83,856.51L200.83,857.19L201.43,857.19L201.43,855.44L202.03,855.44L202.03,855.37L202.63,855.37L202.63,854.29L203.23,854.29L203.23,854.35L203.83,854.35L203.83,853.58L204.43,853.58L204.43,853.28L205.03,853.28L205.03,853.06L205.63,853.06L205.63,851.39L206.23,851.39L206.23,850.68L206.83,850.68L206.83,849.89L207.43,849.89L207.43,847.95L208.03,847.95L208.03,844.05L208.63,844.05L208.63,836.82L209.23,836.82L209.23,836.94L209.83,836.94L209.83,841.33L210.43,841.33L210.43,845.48L211.03,845.48L211.03,840.01L211.63,840.01L211.63,837.84L212.23,837.84L212.23,834.02L212.83,834.02L212.83,828.26L213.43,828.26L213.43,824.61L214.03,824.61L214.03,816.48L214.63,816.48L214.63,822.76L215.23,822.76L215.23,817.14L215.83,817.14L215.83,812.77L216.43,812.77L216.43,806.77L217.03,806.77L217.03,815.16L217.63,815.16L217.63,814.86L218.23,814.86L218.23,808.57L218.83,808.57L218.83,802.70L219.43,802.70L219.43,799.53L220.03,799.53L220.03,795.93L220.63,795.93L220.63,789.97L221.23,789.97L221.23,780.51L221.83,780.51L221.83,777.57L222.43,777.57L222.43,782.05L223.03,782.05L223.03,787.87L223.63,787.87L223.63,783.72L224.23,783.72L224.23,777.39L224.83,777.39L224.83,776.03L225.43,776.03L225.43,779.69L226.03,779.69L226.03,780.98L226.63,780.98L226.63,787.17L227.23,787.17L227.23,786.62L227.83,786.62L227.83,781.13L228.43,781.13L228.43,782.07L229.03,782.07L229.03,782.48L229.63,782.48L229.63,782.10L230.23,782.10L230.23,783.15L230.83,783.15L230.83,784.15L231.43,784.15L231.43,788.64L232.03,788.64L232.03,791.79L232.63,791.79L232.63,800.08L233.23,800.08L233.23,807.61L233.83,807.61L233.83,806.30L234.43,806.30L234.43,805.92L235.03,805.92L235.03,810.24L235.63,810.24L235.63,812.14L236.23,812.14L236.23,809.73L236.83,809.73L236.83,810.37L237.43,810.37L237.43,811.89L238.03,811.89L238.03,814.96L238.63,814.96L238.63,823.67L239.23,823.67L239.23,826.21L239.83,826.21L239.83,829.66L240.43,829.66L240.43,832.09L241.03,832.09L241.03,837.20L241.63,837.20L241.63,838.45L242.23,838.45L242.23,833.71L242.83,833.71L242.83,832.71L243.43,832.71L243.43,835.14L244.03,835.14L244.03,841.93L244.63,841.93L244.63,843.16L245.23,843.16L245.23,845.83L245.83,845.83L245.83,846.38L246.43,846.38L246.43,848.54L247.03,848.54L247.03,848.02L247.63,848.02L247.63,849.29L248.23,849.29L248.23,848.52L248.83,848.52L248.83,848.72L249.43,848.72L249.43,848.39L250.03,848.39L250.03,848.31L250.63,848.31L250.63,848.39L251.23,848.39L251.23,849.08L251.83,849.08L251.83,849.67L252.43,849.67L252.43,852.96L253.03,852.96L253.03,855.74L253.63,855.74L253.63,856.87L254.23,856.87L254.23,856.02L254.83,856.02L254.83,855.86L255.43,855.86L255.43,856.13L256.03,856.13L256.03,854.98L256.63,854.98L256.63,854.41L257.23,854.41L257.23,851.06L257.83,851.06L257.83,848.47L258.43,848.47L258.43,848.31L259.03,848.31L259.03,847.71L259.63,847.71L259.63,849.05L260.23,849.05L260.23,851.36L260.83,851.36L260.83,847.83L261.43,847.83L261.43,842.11L262.03,842.11L262.03,837.73L262.63,837.73L262.63,836.11L263.23,836.11L263.23,833.28L263.83,833.28L263.83,833.46L264.43,833.46L264.43,833.89L265.03,833.89L265.03,827.94L265.63,827.94L265.63,828.50L266.23,828.50L266.23,823.75L266.83,823.75L266.83,822.14L267.43,822.14L267.43,820.39L268.03,820.39L268.03,823.37L268.63,823.37L268.63,821.88L269.23,821.88L269.23,825.07L269.83,825.07L269.83,826.21L270.43,826.21L270.43,830.28L271.03,830.28L271.03,832.98L271.63,832.98L271.63,835.79L272.23,835.79L272.23,842.70L272.83,842.70L272.83,845.14L273.43,845.14L273.43,846.24L274.03,846.24L274.03,847.14L274.63,847.14L274.63,848.00L275.23,848.00L275.23,851.22L275.83,851.22L275.83,854.14L276.43,854.14L276.43,856.43L277.03,856.43L277.03,857.83L277.63,857.83L277.63,858.86L278.23,858.86L278.23,859.19L278.83,859.19L278.83,859.88L279.43,859.88L279.43,860.86L280.03,860.86L280.03,861.64L280.63,861.64L280.63,862.40L281.23,862.40L281.23,863.30L281.83,863.30L281.83,864.00L281.86,864.00L281.86,864.00Z" fill="#0a0a0a" stroke="#0a0a0a" stroke-width="0.4"/>
<rect x="195.30" y="764.10" width="101.70" height="99.90" fill="none" stroke="#111" stroke-width="1.15"/>
<path d="M195.30,864.00h-3.2M195.30,860.00h-2.0M195.30,856.01h-2.0M195.30,852.01h-2.0M195.30,848.02h-2.0M195.30,844.02h-3.2M195.30,840.02h-2.0M195.30,836.03h-2.0M195.30,832.03h-2.0M195.30,828.04h-2.0M195.30,824.04h-3.2M195.30,820.04h-2.0M195.30,816.05h-2.0M195.30,812.05h-2.0M195.30,808.06h-2.0M195.30,804.06h-3.2M195.30,800.06h-2.0M195.30,796.07h-2.0M195.30,792.07h-2.0M195.30,788.08h-2.0M195.30,784.08h-3.2M195.30,780.08h-2.0M195.30,776.09h-2.0M195.30,772.09h-2.0M195.30,768.10h-2.0M195.30,764.10h-3.2M195.30,864.00v3.2M202.95,864.00v2M207.43,864.00v2M210.61,864.00v2M213.07,864.00v2M215.08,864.00v2M216.79,864.00v2M218.26,864.00v2M219.56,864.00v2M220.73,864.00v3.2M228.38,864.00v2M232.86,864.00v2M236.03,864.00v2M238.50,864.00v2M240.51,864.00v2M242.21,864.00v2M243.69,864.00v2M244.99,864.00v2M246.15,864.00v3.2M253.80,864.00v2M258.28,864.00v2M261.46,864.00v2M263.92,864.00v2M265.93,864.00v2M267.64,864.00v2M269.11,864.00v2M270.41,864.00v2M271.57,864.00v3.2M279.23,864.00v2M283.71,864.00v2M286.88,864.00v2M289.35,864.00v2M291.36,864.00v2M293.06,864.00v2M294.54,864.00v2M295.84,864.00v2M297.00,864.00v3.2" stroke="#111" stroke-width="0.95" fill="none"/>
<path d="M253.20,811.00H293.60M253.20,804.60v12.8M293.60,804.60v12.8" stroke="#2a2a2a" stroke-width="1.2" fill="none"/>
<text x="247.00" y="789.80" font-size="10.75" text-anchor="start" font-weight="normal" fill="#111" stroke="#111" stroke-width="0.3" >18.9±7.2</text>
<path d="M306.44,864.00L306.44,863.28L307.04,863.28L307.04,861.23L307.64,861.23L307.64,858.96L308.24,858.96L308.24,858.25L308.84,858.25L308.84,857.35L309.44,857.35L309.44,860.30L310.04,860.30L310.04,863.28L310.64,863.28L310.64,863.84L311.24,863.84L311.24,863.91L311.84,863.91L311.84,864.00L312.44,864.00L312.44,864.00L313.04,864.00L313.04,863.80L313.64,863.80L313.64,863.90L314.24,863.90L314.24,859.57L314.84,859.57L314.84,853.30L315.44,853.30L315.44,859.47L316.04,859.47L316.04,862.57L316.64,862.57L316.64,860.65L317.24,860.65L317.24,859.01L317.84,859.01L317.84,856.35L318.44,856.35L318.44,855.12L319.04,855.12L319.04,855.38L319.64,855.38L319.64,854.90L320.24,854.90L320.24,855.42L320.84,855.42L320.84,856.85L321.44,856.85L321.44,854.54L322.04,854.54L322.04,852.67L322.64,852.67L322.64,854.37L323.24,854.37L323.24,855.87L323.84,855.87L323.84,856.40L324.44,856.40L324.44,851.34L325.04,851.34L325.04,845.24L325.64,845.24L325.64,845.56L326.24,845.56L326.24,847.24L326.84,847.24L326.84,846.49L327.44,846.49L327.44,843.75L328.04,843.75L328.04,842.29L328.64,842.29L328.64,843.59L329.24,843.59L329.24,844.85L329.84,844.85L329.84,843.49L330.44,843.49L330.44,840.27L331.04,840.27L331.04,831.12L331.64,831.12L331.64,837.57L332.24,837.57L332.24,839.21L332.84,839.21L332.84,841.01L333.44,841.01L333.44,837.33L334.04,837.33L334.04,833.67L334.64,833.67L334.64,829.42L335.24,829.42L335.24,828.84L335.84,828.84L335.84,820.89L336.44,820.89L336.44,820.74L337.04,820.74L337.04,823.46L337.64,823.46L337.64,825.90L338.24,825.90L338.24,812.54L338.84,812.54L338.84,800.09L339.44,800.09L339.44,805.40L340.04,805.40L340.04,813.42L340.64,813.42L340.64,817.87L341.24,817.87L341.24,824.63L341.84,824.63L341.84,821.88L342.44,821.88L342.44,826.58L343.04,826.58L343.04,831.08L343.64,831.08L343.64,830.41L344.24,830.41L344.24,830.21L344.84,830.21L344.84,819.71L345.44,819.71L345.44,815.77L346.04,815.77L346.04,818.69L346.64,818.69L346.64,822.26L347.24,822.26L347.24,827.39L347.84,827.39L347.84,829.93L348.44,829.93L348.44,829.13L349.04,829.13L349.04,827.33L349.64,827.33L349.64,829.02L350.24,829.02L350.24,826.86L350.84,826.86L350.84,831.92L351.44,831.92L351.44,839.04L352.04,839.04L352.04,839.21L352.64,839.21L352.64,841.51L353.24,841.51L353.24,841.56L353.84,841.56L353.84,837.98L354.44,837.98L354.44,835.38L355.04,835.38L355.04,835.53L355.64,835.53L355.64,841.77L356.24,841.77L356.24,843.20L356.84,843.20L356.84,847.12L357.44,847.12L357.44,845.93L358.04,845.93L358.04,849.43L358.64,849.43L358.64,846.82L359.24,846.82L359.24,842.99L359.84,842.99L359.84,844.89L360.44,844.89L360.44,849.05L361.04,849.05L361.04,849.25L361.64,849.25L361.64,848.10L362.24,848.10L362.24,846.24L362.84,846.24L362.84,846.26L363.44,846.26L363.44,850.11L364.04,850.11L364.04,850.94L364.64,850.94L364.64,852.67L365.24,852.67L365.24,850.18L365.84,850.18L365.84,850.38L366.44,850.38L366.44,847.91L367.04,847.91L367.04,847.73L367.64,847.73L367.64,846.39L368.24,846.39L368.24,846.06L368.84,846.06L368.84,844.03L369.44,844.03L369.44,842.55L370.04,842.55L370.04,841.50L370.64,841.50L370.64,841.96L371.24,841.96L371.24,841.57L371.84,841.57L371.84,838.25L372.44,838.25L372.44,835.52L373.04,835.52L373.04,830.79L373.64,830.79L373.64,828.16L374.24,828.16L374.24,820.56L374.84,820.56L374.84,813.94L375.44,813.94L375.44,808.01L376.04,808.01L376.04,802.16L376.64,802.16L376.64,797.69L377.24,797.69L377.24,786.41L377.84,786.41L377.84,798.32L378.44,798.32L378.44,804.80L379.04,804.80L379.04,810.66L379.64,810.66L379.64,817.91L380.24,817.91L380.24,809.00L380.84,809.00L380.84,805.84L381.44,805.84L381.44,817.76L382.04,817.76L382.04,824.75L382.64,824.75L382.64,829.30L383.24,829.30L383.24,833.03L383.84,833.03L383.84,834.56L384.44,834.56L384.44,833.09L385.04,833.09L385.04,835.07L385.64,835.07L385.64,838.42L386.24,838.42L386.24,844.86L386.84,844.86L386.84,847.11L387.44,847.11L387.44,849.96L388.04,849.96L388.04,850.05L388.64,850.05L388.64,852.90L389.24,852.90L389.24,854.17L389.84,854.17L389.84,857.67L390.44,857.67L390.44,863.05L390.85,863.05L390.85,864.00Z" fill="#0a0a0a" stroke="#0a0a0a" stroke-width="0.4"/>
<rect x="306.40" y="764.10" width="101.00" height="99.90" fill="none" stroke="#111" stroke-width="1.15"/>
<path d="M306.40,864.00h-3.2M306.40,860.00h-2.0M306.40,856.01h-2.0M306.40,852.01h-2.0M306.40,848.02h-2.0M306.40,844.02h-3.2M306.40,840.02h-2.0M306.40,836.03h-2.0M306.40,832.03h-2.0M306.40,828.04h-2.0M306.40,824.04h-3.2M306.40,820.04h-2.0M306.40,816.05h-2.0M306.40,812.05h-2.0M306.40,808.06h-2.0M306.40,804.06h-3.2M306.40,800.06h-2.0M306.40,796.07h-2.0M306.40,792.07h-2.0M306.40,788.08h-2.0M306.40,784.08h-3.2M306.40,780.08h-2.0M306.40,776.09h-2.0M306.40,772.09h-2.0M306.40,768.10h-2.0M306.40,764.10h-3.2M306.40,864.00v3.2M314.00,864.00v2M318.45,864.00v2M321.60,864.00v2M324.05,864.00v2M326.05,864.00v2M327.74,864.00v2M329.20,864.00v2M330.49,864.00v2M331.65,864.00v3.2M339.25,864.00v2M343.70,864.00v2M346.85,864.00v2M349.30,864.00v2M351.30,864.00v2M352.99,864.00v2M354.45,864.00v2M355.74,864.00v2M356.90,864.00v3.2M364.50,864.00v2M368.95,864.00v2M372.10,864.00v2M374.55,864.00v2M376.55,864.00v2M378.24,864.00v2M379.70,864.00v2M380.99,864.00v2M382.15,864.00v3.2M389.75,864.00v2M394.20,864.00v2M397.35,864.00v2M399.80,864.00v2M401.80,864.00v2M403.49,864.00v2M404.95,864.00v2M406.24,864.00v2M407.40,864.00v3.2" stroke="#111" stroke-width="0.95" fill="none"/>
<path d="M364.50,809.60H404.60M364.50,803.20v12.8M404.60,803.20v12.8" stroke="#2a2a2a" stroke-width="1.2" fill="none"/>
<text x="353.40" y="790.50" font-size="10.75" text-anchor="start" font-weight="normal" fill="#111" stroke="#111" stroke-width="0.3" >33.9±19.5</text>
<text transform="translate(69.30,702.20) rotate(-90)" font-size="10.6" text-anchor="middle" fill="#111" stroke="#111" stroke-width="0.3" >Relative cell number</text>
<text transform="translate(69.30,813.40) rotate(-90)" font-size="10.6" text-anchor="middle" fill="#111" stroke="#111" stroke-width="0.3" >Relative cell number</text>
<text x="87.50" y="880.50" font-size="11" text-anchor="start" font-weight="normal" fill="#111" stroke="#111" stroke-width="0.3" >Annexin V</text>
<path d="M142,876.5H397" stroke="#111" stroke-width="1" fill="none"/>
<path d="M408,876.5L395,872.2L395,880.8Z" fill="#0a0a0a"/>
</svg>
</body></html>
